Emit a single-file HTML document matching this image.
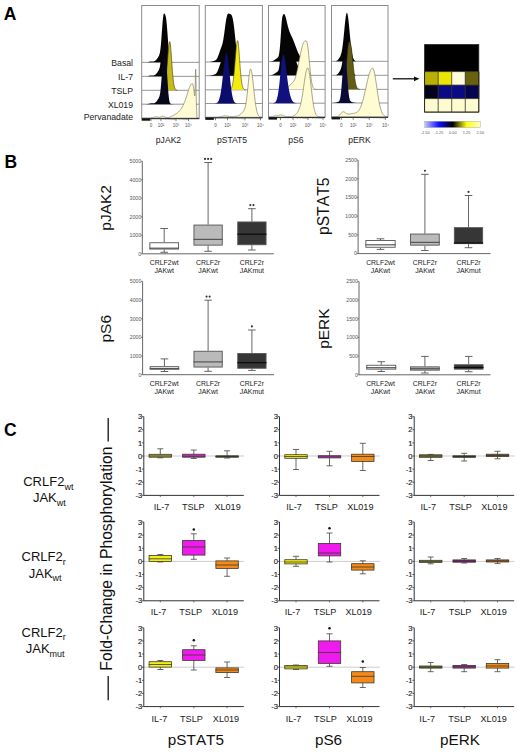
<!DOCTYPE html>
<html><head><meta charset="utf-8"><style>
html,body{margin:0;padding:0;background:#fff;}
body{width:520px;height:753px;overflow:hidden;}
svg{display:block;font-family:"Liberation Sans", sans-serif;}
</style></head><body>
<svg width="520" height="753" viewBox="0 0 520 753">
<rect width="520" height="753" fill="#fff"/>
<text x="3.8" y="19.6" font-size="17.5" font-weight="bold">A</text>
<text x="133" y="66" font-size="8.7" text-anchor="end" fill="#222">Basal</text>
<text x="133" y="79.6" font-size="8.7" text-anchor="end" fill="#222">IL-7</text>
<text x="133" y="93.6" font-size="8.7" text-anchor="end" fill="#222">TSLP</text>
<text x="133" y="107.5" font-size="8.7" text-anchor="end" fill="#222">XL019</text>
<text x="133" y="120.3" font-size="8.7" text-anchor="end" fill="#222">Pervanadate</text>
<g>
<rect x="141.7" y="5.5" width="57.5" height="112.7" fill="#fff"/>
<line x1="141.7" y1="62.35" x2="199.2" y2="62.35" stroke="#8a8a8a" stroke-width="0.9"/>
<path d="M142.2 62.35 L142.2 62.35 142.45 62.35 142.7 62.35 142.95 62.35 143.2 62.35 143.45 62.35 143.7 62.35 143.95 62.35 144.2 62.35 144.45 62.35 144.7 62.34 144.95 62.34 145.2 62.34 145.45 62.33 145.7 62.33 145.95 62.32 146.2 62.3 146.45 62.29 146.7 62.27 146.95 62.25 147.2 62.22 147.45 62.18 147.7 62.14 147.95 62.1 148.2 62.04 148.45 61.99 148.7 61.93 148.95 61.87 149.2 61.8 149.45 61.74 149.7 61.68 149.95 61.62 150.2 61.57 150.45 61.53 150.7 61.5 150.95 61.47 151.2 61.46 151.45 61.45 151.7 61.46 151.95 61.46 152.2 61.47 152.45 61.48 152.7 61.49 152.95 61.48 153.2 61.47 153.45 61.45 153.7 61.41 153.95 61.36 154.2 61.28 154.45 61.19 154.7 61.07 154.95 60.93 155.2 60.76 155.45 60.57 155.7 60.36 155.95 60.12 156.2 59.86 156.45 59.58 156.7 59.28 156.95 58.95 157.2 58.61 157.45 58.26 157.7 57.89 157.95 57.5 158.2 57.1 158.45 56.67 158.7 56.21 158.95 55.7 159.2 55.09 159.45 54.36 159.7 53.44 159.95 52.28 160.2 50.81 160.45 48.98 160.7 46.76 160.95 44.13 161.2 41.13 161.45 37.83 161.7 34.33 161.95 30.77 162.2 27.27 162.45 23.99 162.7 21.06 162.95 18.55 163.2 16.55 163.45 15.06 163.7 14.08 163.95 13.55 164.2 13.41 164.45 13.55 164.7 13.87 164.95 14.25 165.2 14.73 165.45 15.4 165.7 16.33 165.95 17.59 166.2 19.22 166.45 21.25 166.7 23.68 166.95 26.49 167.2 29.63 167.45 33.02 167.7 36.55 167.95 40.12 168.2 43.61 168.45 46.91 168.7 49.93 168.95 52.6 169.2 54.89 169.45 56.78 169.7 58.29 169.95 59.45 170.2 60.32 170.45 60.94 170.7 61.38 170.95 61.68 171.2 61.88 171.45 62.02 171.7 62.11 171.95 62.17 172.2 62.21 172.45 62.24 172.7 62.26 172.95 62.28 173.2 62.29 173.45 62.31 173.7 62.32 173.95 62.32 174.2 62.33 174.45 62.33 174.7 62.34 174.95 62.34 175.2 62.34 175.45 62.34 175.7 62.35 175.95 62.35 176.2 62.35 176.45 62.35 176.7 62.35 176.95 62.35 177.2 62.35 177.45 62.35 177.7 62.35 177.95 62.35 178.2 62.35 178.45 62.35 178.7 62.35 178.95 62.35 179.2 62.35 179.45 62.35 179.7 62.35 179.95 62.35 180.2 62.35 180.45 62.35 180.7 62.35 180.95 62.35 181.2 62.35 181.45 62.35 181.7 62.35 181.95 62.35 182.2 62.35 182.45 62.35 182.7 62.35 182.95 62.35 183.2 62.35 183.45 62.35 183.7 62.35 183.95 62.35 184.2 62.35 184.45 62.35 184.7 62.35 184.95 62.35 185.2 62.35 185.45 62.35 185.7 62.35 185.95 62.35 186.2 62.35 186.45 62.35 186.7 62.35 186.95 62.35 187.2 62.35 187.45 62.35 187.7 62.35 187.95 62.35 188.2 62.35 188.45 62.35 188.7 62.35 188.95 62.35 189.2 62.35 189.45 62.35 189.7 62.35 189.95 62.35 190.2 62.35 190.45 62.35 190.7 62.35 190.95 62.35 191.2 62.35 191.45 62.35 191.7 62.35 191.95 62.35 192.2 62.35 192.45 62.35 192.7 62.35 192.95 62.35 193.2 62.35 193.45 62.35 193.7 62.35 193.95 62.35 194.2 62.35 194.45 62.35 194.7 62.35 194.95 62.35 195.2 62.35 195.45 62.35 195.7 62.35 195.95 62.35 196.2 62.35 196.45 62.35 196.7 62.35 196.95 62.35 197.2 62.35 197.45 62.35 197.7 62.35 197.95 62.35 198.2 62.35 198.45 62.35 198.7 62.35 L198.7 62.35 Z" fill="#050505"/>
<line x1="141.7" y1="76.35" x2="199.2" y2="76.35" stroke="#8a8a8a" stroke-width="0.9"/>
<path d="M142.2 76.35 L142.2 76.35 142.45 76.35 142.7 76.35 142.95 76.35 143.2 76.35 143.45 76.35 143.7 76.35 143.95 76.35 144.2 76.35 144.45 76.35 144.7 76.34 144.95 76.34 145.2 76.34 145.45 76.33 145.7 76.33 145.95 76.32 146.2 76.3 146.45 76.29 146.7 76.27 146.95 76.25 147.2 76.22 147.45 76.18 147.7 76.14 147.95 76.1 148.2 76.04 148.45 75.99 148.7 75.93 148.95 75.87 149.2 75.8 149.45 75.74 149.7 75.68 149.95 75.62 150.2 75.57 150.45 75.53 150.7 75.5 150.95 75.47 151.2 75.46 151.45 75.45 151.7 75.46 151.95 75.46 152.2 75.47 152.45 75.48 152.7 75.49 152.95 75.48 153.2 75.47 153.45 75.45 153.7 75.41 153.95 75.36 154.2 75.28 154.45 75.19 154.7 75.07 154.95 74.93 155.2 74.76 155.45 74.57 155.7 74.36 155.95 74.12 156.2 73.86 156.45 73.58 156.7 73.28 156.95 72.95 157.2 72.61 157.45 72.26 157.7 71.89 157.95 71.5 158.2 71.1 158.45 70.67 158.7 70.21 158.95 69.7 159.2 69.09 159.45 68.36 159.7 67.44 159.95 66.28 160.2 64.81 160.45 62.98 160.7 60.76 160.95 58.13 161.2 55.13 161.45 51.83 161.7 48.33 161.95 44.77 162.2 41.27 162.45 37.99 162.7 35.06 162.95 32.55 163.2 30.55 163.45 29.06 163.7 28.08 163.95 27.55 164.2 27.41 164.45 27.55 164.7 27.87 164.95 28.25 165.2 28.73 165.45 29.4 165.7 30.33 165.95 31.59 166.2 33.22 166.45 35.25 166.7 37.68 166.95 40.49 167.2 43.63 167.45 47.02 167.7 50.55 167.95 54.12 168.2 57.61 168.45 60.91 168.7 63.93 168.95 66.6 169.2 68.89 169.45 70.78 169.7 72.29 169.95 73.45 170.2 74.32 170.45 74.94 170.7 75.38 170.95 75.68 171.2 75.88 171.45 76.02 171.7 76.11 171.95 76.17 172.2 76.21 172.45 76.24 172.7 76.26 172.95 76.28 173.2 76.29 173.45 76.31 173.7 76.32 173.95 76.32 174.2 76.33 174.45 76.33 174.7 76.34 174.95 76.34 175.2 76.34 175.45 76.34 175.7 76.35 175.95 76.35 176.2 76.35 176.45 76.35 176.7 76.35 176.95 76.35 177.2 76.35 177.45 76.35 177.7 76.35 177.95 76.35 178.2 76.35 178.45 76.35 178.7 76.35 178.95 76.35 179.2 76.35 179.45 76.35 179.7 76.35 179.95 76.35 180.2 76.35 180.45 76.35 180.7 76.35 180.95 76.35 181.2 76.35 181.45 76.35 181.7 76.35 181.95 76.35 182.2 76.35 182.45 76.35 182.7 76.35 182.95 76.35 183.2 76.35 183.45 76.35 183.7 76.35 183.95 76.35 184.2 76.35 184.45 76.35 184.7 76.35 184.95 76.35 185.2 76.35 185.45 76.35 185.7 76.35 185.95 76.35 186.2 76.35 186.45 76.35 186.7 76.35 186.95 76.35 187.2 76.35 187.45 76.35 187.7 76.35 187.95 76.35 188.2 76.35 188.45 76.35 188.7 76.35 188.95 76.35 189.2 76.35 189.45 76.35 189.7 76.35 189.95 76.35 190.2 76.35 190.45 76.35 190.7 76.35 190.95 76.35 191.2 76.35 191.45 76.35 191.7 76.35 191.95 76.35 192.2 76.35 192.45 76.35 192.7 76.35 192.95 76.35 193.2 76.35 193.45 76.35 193.7 76.35 193.95 76.35 194.2 76.35 194.45 76.35 194.7 76.35 194.95 76.35 195.2 76.35 195.45 76.35 195.7 76.35 195.95 76.35 196.2 76.35 196.45 76.35 196.7 76.35 196.95 76.35 197.2 76.35 197.45 76.35 197.7 76.35 197.95 76.35 198.2 76.35 198.45 76.35 198.7 76.35 L198.7 76.35 Z" fill="#050505"/>
<line x1="141.7" y1="90.3" x2="199.2" y2="90.3" stroke="#8a8a8a" stroke-width="0.9"/>
<path d="M142.2 90.3 L142.2 90.3 142.45 90.3 142.7 90.3 142.95 90.3 143.2 90.3 143.45 90.3 143.7 90.3 143.95 90.3 144.2 90.3 144.45 90.3 144.7 90.3 144.95 90.3 145.2 90.3 145.45 90.3 145.7 90.3 145.95 90.3 146.2 90.3 146.45 90.3 146.7 90.3 146.95 90.3 147.2 90.3 147.45 90.3 147.7 90.3 147.95 90.3 148.2 90.3 148.45 90.3 148.7 90.3 148.95 90.3 149.2 90.3 149.45 90.3 149.7 90.3 149.95 90.3 150.2 90.3 150.45 90.3 150.7 90.3 150.95 90.3 151.2 90.3 151.45 90.3 151.7 90.3 151.95 90.3 152.2 90.3 152.45 90.3 152.7 90.3 152.95 90.3 153.2 90.3 153.45 90.3 153.7 90.3 153.95 90.3 154.2 90.3 154.45 90.3 154.7 90.3 154.95 90.3 155.2 90.3 155.45 90.3 155.7 90.3 155.95 90.3 156.2 90.3 156.45 90.3 156.7 90.3 156.95 90.3 157.2 90.3 157.45 90.3 157.7 90.3 157.95 90.3 158.2 90.3 158.45 90.3 158.7 90.3 158.95 90.3 159.2 90.3 159.45 90.3 159.7 90.3 159.95 90.3 160.2 90.3 160.45 90.29 160.7 90.29 160.95 90.28 161.2 90.27 161.45 90.26 161.7 90.23 161.95 90.2 162.2 90.15 162.45 90.09 162.7 89.99 162.95 89.86 163.2 89.68 163.45 89.44 163.7 89.12 163.95 88.7 164.2 88.16 164.45 87.48 164.7 86.63 164.95 85.58 165.2 84.3 165.45 82.78 165.7 80.99 165.95 78.93 166.2 76.59 166.45 73.98 166.7 71.12 166.95 68.05 167.2 64.82 167.45 61.49 167.7 58.15 167.95 54.87 168.2 51.77 168.45 48.92 168.7 46.44 168.95 44.39 169.2 42.86 169.45 41.89 169.7 41.52 169.95 41.87 170.2 43 170.45 44.87 170.7 47.37 170.95 50.37 171.2 53.74 171.45 57.33 171.7 61 171.95 64.63 172.2 68.12 172.45 71.38 172.7 74.37 172.95 77.05 173.2 79.41 173.45 81.46 173.7 83.21 173.95 84.68 174.2 85.91 174.45 86.91 174.7 87.72 174.95 88.37 175.2 88.88 175.45 89.27 175.7 89.57 175.95 89.79 176.2 89.95 176.45 90.07 176.7 90.15 176.95 90.2 177.2 90.24 177.45 90.26 177.7 90.28 177.95 90.29 178.2 90.29 178.45 90.3 178.7 90.3 178.95 90.3 179.2 90.3 179.45 90.3 179.7 90.3 179.95 90.3 180.2 90.3 180.45 90.3 180.7 90.3 180.95 90.3 181.2 90.3 181.45 90.3 181.7 90.3 181.95 90.3 182.2 90.3 182.45 90.3 182.7 90.3 182.95 90.3 183.2 90.3 183.45 90.3 183.7 90.3 183.95 90.3 184.2 90.3 184.45 90.3 184.7 90.3 184.95 90.3 185.2 90.3 185.45 90.3 185.7 90.3 185.95 90.3 186.2 90.3 186.45 90.3 186.7 90.3 186.95 90.3 187.2 90.3 187.45 90.3 187.7 90.3 187.95 90.3 188.2 90.3 188.45 90.3 188.7 90.3 188.95 90.3 189.2 90.3 189.45 90.3 189.7 90.3 189.95 90.3 190.2 90.3 190.45 90.3 190.7 90.3 190.95 90.3 191.2 90.3 191.45 90.3 191.7 90.3 191.95 90.3 192.2 90.3 192.45 90.3 192.7 90.3 192.95 90.3 193.2 90.3 193.45 90.3 193.7 90.3 193.95 90.3 194.2 90.3 194.45 90.3 194.7 90.3 194.95 90.3 195.2 90.3 195.45 90.3 195.7 90.3 195.95 90.3 196.2 90.3 196.45 90.3 196.7 90.3 196.95 90.3 197.2 90.3 197.45 90.3 197.7 90.3 197.95 90.3 198.2 90.3 198.45 90.3 198.7 90.3 L198.7 90.3 Z" fill="#c4ba18"/>
<path d="M161.7 90.23 L161.95 90.2 L162.2 90.15 L162.45 90.09 L162.7 89.99 L162.95 89.86 L163.2 89.68 L163.45 89.44 L163.7 89.12 L163.95 88.7 L164.2 88.16 L164.45 87.48 L164.7 86.63 L164.95 85.58 L165.2 84.3 L165.45 82.78 L165.7 80.99 L165.95 78.93 L166.2 76.59 L166.45 73.98 L166.7 71.12 L166.95 68.05 L167.2 64.82 L167.45 61.49 L167.7 58.15 L167.95 54.87 L168.2 51.77 L168.45 48.92 L168.7 46.44 L168.95 44.39 L169.2 42.86 L169.45 41.89 L169.7 41.52 L169.95 41.87 L170.2 43 L170.45 44.87 L170.7 47.37 L170.95 50.37 L171.2 53.74 L171.45 57.33 L171.7 61 L171.95 64.63 L172.2 68.12 L172.45 71.38 L172.7 74.37 L172.95 77.05 L173.2 79.41 L173.45 81.46 L173.7 83.21 L173.95 84.68 L174.2 85.91 L174.45 86.91 L174.7 87.72 L174.95 88.37 L175.2 88.88 L175.45 89.27 L175.7 89.57 L175.95 89.79 L176.2 89.95 L176.45 90.07 L176.7 90.15 L176.95 90.2 L177.2 90.24 L177.45 90.26" fill="none" stroke="#3e3a0c" stroke-width="0.6"/>
<line x1="141.7" y1="104.2" x2="199.2" y2="104.2" stroke="#8a8a8a" stroke-width="0.9"/>
<path d="M142.2 104.2 L142.2 104.2 142.45 104.2 142.7 104.2 142.95 104.2 143.2 104.2 143.45 104.2 143.7 104.2 143.95 104.2 144.2 104.2 144.45 104.2 144.7 104.19 144.95 104.19 145.2 104.19 145.45 104.18 145.7 104.18 145.95 104.17 146.2 104.15 146.45 104.14 146.7 104.12 146.95 104.1 147.2 104.07 147.45 104.03 147.7 103.99 147.95 103.95 148.2 103.89 148.45 103.84 148.7 103.78 148.95 103.72 149.2 103.65 149.45 103.59 149.7 103.53 149.95 103.47 150.2 103.42 150.45 103.38 150.7 103.35 150.95 103.32 151.2 103.31 151.45 103.3 151.7 103.31 151.95 103.31 152.2 103.32 152.45 103.33 152.7 103.34 152.95 103.33 153.2 103.32 153.45 103.3 153.7 103.26 153.95 103.21 154.2 103.13 154.45 103.04 154.7 102.92 154.95 102.78 155.2 102.61 155.45 102.42 155.7 102.21 155.95 101.97 156.2 101.71 156.45 101.43 156.7 101.13 156.95 100.8 157.2 100.46 157.45 100.11 157.7 99.74 157.95 99.35 158.2 98.95 158.45 98.52 158.7 98.06 158.95 97.55 159.2 96.94 159.45 96.21 159.7 95.29 159.95 94.13 160.2 92.66 160.45 90.83 160.7 88.61 160.95 85.98 161.2 82.98 161.45 79.68 161.7 76.18 161.95 72.62 162.2 69.12 162.45 65.84 162.7 62.91 162.95 60.4 163.2 58.4 163.45 56.91 163.7 55.93 163.95 55.4 164.2 55.26 164.45 55.4 164.7 55.72 164.95 56.11 165.2 56.63 165.45 57.4 165.7 58.54 165.95 60.11 166.2 62.18 166.45 64.77 166.7 67.84 166.95 71.33 167.2 75.13 167.45 79.1 167.7 83.07 167.95 86.89 168.2 90.42 168.45 93.54 168.7 96.19 168.95 98.34 169.2 100.02 169.45 101.27 169.7 102.17 169.95 102.8 170.2 103.22 170.45 103.5 170.7 103.68 170.95 103.81 171.2 103.89 171.45 103.95 171.7 104 171.95 104.04 172.2 104.07 172.45 104.09 172.7 104.11 172.95 104.13 173.2 104.14 173.45 104.16 173.7 104.17 173.95 104.17 174.2 104.18 174.45 104.18 174.7 104.19 174.95 104.19 175.2 104.19 175.45 104.19 175.7 104.2 175.95 104.2 176.2 104.2 176.45 104.2 176.7 104.2 176.95 104.2 177.2 104.2 177.45 104.2 177.7 104.2 177.95 104.2 178.2 104.2 178.45 104.2 178.7 104.2 178.95 104.2 179.2 104.2 179.45 104.2 179.7 104.2 179.95 104.2 180.2 104.2 180.45 104.2 180.7 104.2 180.95 104.2 181.2 104.2 181.45 104.2 181.7 104.2 181.95 104.2 182.2 104.2 182.45 104.2 182.7 104.2 182.95 104.2 183.2 104.2 183.45 104.2 183.7 104.2 183.95 104.2 184.2 104.2 184.45 104.2 184.7 104.2 184.95 104.2 185.2 104.2 185.45 104.2 185.7 104.2 185.95 104.2 186.2 104.2 186.45 104.2 186.7 104.2 186.95 104.2 187.2 104.2 187.45 104.2 187.7 104.2 187.95 104.2 188.2 104.2 188.45 104.2 188.7 104.2 188.95 104.2 189.2 104.2 189.45 104.2 189.7 104.2 189.95 104.2 190.2 104.2 190.45 104.2 190.7 104.2 190.95 104.2 191.2 104.2 191.45 104.2 191.7 104.2 191.95 104.2 192.2 104.2 192.45 104.2 192.7 104.2 192.95 104.2 193.2 104.2 193.45 104.2 193.7 104.2 193.95 104.2 194.2 104.2 194.45 104.2 194.7 104.2 194.95 104.2 195.2 104.2 195.45 104.2 195.7 104.2 195.95 104.2 196.2 104.2 196.45 104.2 196.7 104.2 196.95 104.2 197.2 104.2 197.45 104.2 197.7 104.2 197.95 104.2 198.2 104.2 198.45 104.2 198.7 104.2 L198.7 104.2 Z" fill="#07071a"/>
<line x1="141.7" y1="118.2" x2="199.2" y2="118.2" stroke="#8a8a8a" stroke-width="0.9"/>
<path d="M142.2 118.2 L142.2 118.2 142.45 118.2 142.7 118.2 142.95 118.2 143.2 118.2 143.45 118.2 143.7 118.2 143.95 118.2 144.2 118.2 144.45 118.2 144.7 118.2 144.95 118.2 145.2 118.2 145.45 118.2 145.7 118.2 145.95 118.2 146.2 118.2 146.45 118.2 146.7 118.2 146.95 118.2 147.2 118.2 147.45 118.2 147.7 118.2 147.95 118.2 148.2 118.2 148.45 118.2 148.7 118.2 148.95 118.2 149.2 118.2 149.45 118.19 149.7 118.19 149.95 118.18 150.2 118.18 150.45 118.17 150.7 118.16 150.95 118.14 151.2 118.12 151.45 118.09 151.7 118.05 151.95 118.01 152.2 117.95 152.45 117.89 152.7 117.82 152.95 117.73 153.2 117.64 153.45 117.53 153.7 117.43 153.95 117.31 154.2 117.2 154.45 117.09 154.7 116.98 154.95 116.89 155.2 116.81 155.45 116.75 155.7 116.71 155.95 116.69 156.2 116.69 156.45 116.72 156.7 116.76 156.95 116.82 157.2 116.89 157.45 116.96 157.7 117.04 157.95 117.12 158.2 117.18 158.45 117.23 158.7 117.27 158.95 117.28 159.2 117.27 159.45 117.23 159.7 117.18 159.95 117.1 160.2 117 160.45 116.89 160.7 116.77 160.95 116.64 161.2 116.52 161.45 116.41 161.7 116.32 161.95 116.24 162.2 116.2 162.45 116.17 162.7 116.18 162.95 116.22 163.2 116.28 163.45 116.37 163.7 116.48 163.95 116.61 164.2 116.74 164.45 116.88 164.7 117.02 164.95 117.15 165.2 117.27 165.45 117.38 165.7 117.48 165.95 117.55 166.2 117.61 166.45 117.66 166.7 117.69 166.95 117.7 167.2 117.69 167.45 117.68 167.7 117.65 167.95 117.61 168.2 117.56 168.45 117.5 168.7 117.44 168.95 117.37 169.2 117.29 169.45 117.2 169.7 117.11 169.95 117.01 170.2 116.91 170.45 116.81 170.7 116.7 170.95 116.58 171.2 116.46 171.45 116.34 171.7 116.22 171.95 116.1 172.2 115.97 172.45 115.84 172.7 115.71 172.95 115.58 173.2 115.44 173.45 115.31 173.7 115.18 173.95 115.04 174.2 114.9 174.45 114.76 174.7 114.62 174.95 114.48 175.2 114.34 175.45 114.19 175.7 114.04 175.95 113.88 176.2 113.72 176.45 113.56 176.7 113.39 176.95 113.21 177.2 113.02 177.45 112.83 177.7 112.63 177.95 112.42 178.2 112.2 178.45 111.97 178.7 111.73 178.95 111.48 179.2 111.22 179.45 110.95 179.7 110.67 179.95 110.38 180.2 110.07 180.45 109.75 180.7 109.42 180.95 109.07 181.2 108.71 181.45 108.33 181.7 107.94 181.95 107.54 182.2 107.11 182.45 106.67 182.7 106.21 182.95 105.74 183.2 105.24 183.45 104.72 183.7 104.18 183.95 103.61 184.2 103.02 184.45 102.42 184.7 101.78 184.95 101.13 185.2 100.45 185.45 99.75 185.7 99.03 185.95 98.29 186.2 97.53 186.45 96.76 186.7 95.97 186.95 95.18 187.2 94.38 187.45 93.57 187.7 92.77 187.95 91.97 188.2 91.18 188.45 90.41 188.7 89.65 188.95 88.92 189.2 88.21 189.45 87.54 189.7 86.91 189.95 86.32 190.2 85.78 190.45 85.29 190.7 84.86 190.95 84.49 191.2 84.18 191.45 83.93 191.7 83.76 191.95 83.65 192.2 83.61 192.45 83.7 192.7 84.1 192.95 84.83 193.2 85.86 193.45 87.17 193.7 88.72 193.95 90.47 194.2 92.38 194.45 94.33 194.7 95.87 194.95 95 195.2 87.86 195.45 75.2 195.7 69.14 195.95 78.91 196.2 95.24 196.45 105.96 196.7 110.29 196.95 118.2 197.2 118.2 197.45 118.2 197.7 118.2 197.95 118.2 198.2 118.2 198.45 118.2 198.7 118.2 L198.7 118.2 Z" fill="#fffbd2"/>
<path d="M150.95 118.14 L151.2 118.12 L151.45 118.09 L151.7 118.05 L151.95 118.01 L152.2 117.95 L152.45 117.89 L152.7 117.82 L152.95 117.73 L153.2 117.64 L153.45 117.53 L153.7 117.43 L153.95 117.31 L154.2 117.2 L154.45 117.09 L154.7 116.98 L154.95 116.89 L155.2 116.81 L155.45 116.75 L155.7 116.71 L155.95 116.69 L156.2 116.69 L156.45 116.72 L156.7 116.76 L156.95 116.82 L157.2 116.89 L157.45 116.96 L157.7 117.04 L157.95 117.12 L158.2 117.18 L158.45 117.23 L158.7 117.27 L158.95 117.28 L159.2 117.27 L159.45 117.23 L159.7 117.18 L159.95 117.1 L160.2 117 L160.45 116.89 L160.7 116.77 L160.95 116.64 L161.2 116.52 L161.45 116.41 L161.7 116.32 L161.95 116.24 L162.2 116.2 L162.45 116.17 L162.7 116.18 L162.95 116.22 L163.2 116.28 L163.45 116.37 L163.7 116.48 L163.95 116.61 L164.2 116.74 L164.45 116.88 L164.7 117.02 L164.95 117.15 L165.2 117.27 L165.45 117.38 L165.7 117.48 L165.95 117.55 L166.2 117.61 L166.45 117.66 L166.7 117.69 L166.95 117.7 L167.2 117.69 L167.45 117.68 L167.7 117.65 L167.95 117.61 L168.2 117.56 L168.45 117.5 L168.7 117.44 L168.95 117.37 L169.2 117.29 L169.45 117.2 L169.7 117.11 L169.95 117.01 L170.2 116.91 L170.45 116.81 L170.7 116.7 L170.95 116.58 L171.2 116.46 L171.45 116.34 L171.7 116.22 L171.95 116.1 L172.2 115.97 L172.45 115.84 L172.7 115.71 L172.95 115.58 L173.2 115.44 L173.45 115.31 L173.7 115.18 L173.95 115.04 L174.2 114.9 L174.45 114.76 L174.7 114.62 L174.95 114.48 L175.2 114.34 L175.45 114.19 L175.7 114.04 L175.95 113.88 L176.2 113.72 L176.45 113.56 L176.7 113.39 L176.95 113.21 L177.2 113.02 L177.45 112.83 L177.7 112.63 L177.95 112.42 L178.2 112.2 L178.45 111.97 L178.7 111.73 L178.95 111.48 L179.2 111.22 L179.45 110.95 L179.7 110.67 L179.95 110.38 L180.2 110.07 L180.45 109.75 L180.7 109.42 L180.95 109.07 L181.2 108.71 L181.45 108.33 L181.7 107.94 L181.95 107.54 L182.2 107.11 L182.45 106.67 L182.7 106.21 L182.95 105.74 L183.2 105.24 L183.45 104.72 L183.7 104.18 L183.95 103.61 L184.2 103.02 L184.45 102.42 L184.7 101.78 L184.95 101.13 L185.2 100.45 L185.45 99.75 L185.7 99.03 L185.95 98.29 L186.2 97.53 L186.45 96.76 L186.7 95.97 L186.95 95.18 L187.2 94.38 L187.45 93.57 L187.7 92.77 L187.95 91.97 L188.2 91.18 L188.45 90.41 L188.7 89.65 L188.95 88.92 L189.2 88.21 L189.45 87.54 L189.7 86.91 L189.95 86.32 L190.2 85.78 L190.45 85.29 L190.7 84.86 L190.95 84.49 L191.2 84.18 L191.45 83.93 L191.7 83.76 L191.95 83.65 L192.2 83.61 L192.45 83.7 L192.7 84.1 L192.95 84.83 L193.2 85.86 L193.45 87.17 L193.7 88.72 L193.95 90.47 L194.2 92.38 L194.45 94.33 L194.7 95.87 L194.95 95 L195.2 87.86 L195.45 75.2 L195.7 69.14 L195.95 78.91 L196.2 95.24 L196.45 105.96 L196.7 110.29 L196.95 118.2" fill="none" stroke="#6e6a48" stroke-width="0.6"/>
<rect x="141.7" y="5.5" width="57.5" height="112.7" fill="none" stroke="#8c8c8c" stroke-width="1"/>
<line x1="141.7" y1="118.7" x2="199.2" y2="118.7" stroke="#222" stroke-width="1"/>
<rect x="141.7" y="118.7" width="8.5" height="2" fill="#111"/>
<line x1="151.0" y1="118.7" x2="151.0" y2="121.2" stroke="#333" stroke-width="0.6"/>
<line x1="161.0" y1="118.7" x2="161.0" y2="121.2" stroke="#333" stroke-width="0.6"/>
<line x1="176.0" y1="118.7" x2="176.0" y2="121.2" stroke="#333" stroke-width="0.6"/>
<line x1="188.5" y1="118.7" x2="188.5" y2="121.2" stroke="#333" stroke-width="0.6"/>
<line x1="165.52" y1="118.7" x2="165.52" y2="120.10000000000001" stroke="#777" stroke-width="0.4"/>
<line x1="168.16" y1="118.7" x2="168.16" y2="120.10000000000001" stroke="#777" stroke-width="0.4"/>
<line x1="170.03" y1="118.7" x2="170.03" y2="120.10000000000001" stroke="#777" stroke-width="0.4"/>
<line x1="171.48" y1="118.7" x2="171.48" y2="120.10000000000001" stroke="#777" stroke-width="0.4"/>
<line x1="172.67" y1="118.7" x2="172.67" y2="120.10000000000001" stroke="#777" stroke-width="0.4"/>
<line x1="173.68" y1="118.7" x2="173.68" y2="120.10000000000001" stroke="#777" stroke-width="0.4"/>
<line x1="174.55" y1="118.7" x2="174.55" y2="120.10000000000001" stroke="#777" stroke-width="0.4"/>
<line x1="175.31" y1="118.7" x2="175.31" y2="120.10000000000001" stroke="#777" stroke-width="0.4"/>
<line x1="179.76" y1="118.7" x2="179.76" y2="120.10000000000001" stroke="#777" stroke-width="0.4"/>
<line x1="181.96" y1="118.7" x2="181.96" y2="120.10000000000001" stroke="#777" stroke-width="0.4"/>
<line x1="183.53" y1="118.7" x2="183.53" y2="120.10000000000001" stroke="#777" stroke-width="0.4"/>
<line x1="184.74" y1="118.7" x2="184.74" y2="120.10000000000001" stroke="#777" stroke-width="0.4"/>
<line x1="185.73" y1="118.7" x2="185.73" y2="120.10000000000001" stroke="#777" stroke-width="0.4"/>
<line x1="186.56" y1="118.7" x2="186.56" y2="120.10000000000001" stroke="#777" stroke-width="0.4"/>
<line x1="187.29" y1="118.7" x2="187.29" y2="120.10000000000001" stroke="#777" stroke-width="0.4"/>
<line x1="187.93" y1="118.7" x2="187.93" y2="120.10000000000001" stroke="#777" stroke-width="0.4"/>
<text x="151" y="126.6" font-size="4.5" text-anchor="middle" fill="#555">0</text>
<text x="161" y="126.6" font-size="4.5" text-anchor="middle" fill="#555">10²</text>
<text x="176" y="126.6" font-size="4.5" text-anchor="middle" fill="#555">10³</text>
<text x="188.5" y="126.6" font-size="4.5" text-anchor="middle" fill="#555">10⁴</text>
</g>
<g>
<rect x="205.3" y="5.5" width="57.099999999999966" height="111.85" fill="#fff"/>
<line x1="205.3" y1="62.0" x2="262.4" y2="62.0" stroke="#8a8a8a" stroke-width="0.9"/>
<path d="M205.8 62 L205.8 62 206.05 62 206.3 62 206.55 62 206.8 62 207.05 62 207.3 62 207.55 62 207.8 61.99 208.05 61.99 208.3 61.99 208.55 61.98 208.81 61.97 209.06 61.96 209.31 61.95 209.56 61.93 209.81 61.91 210.06 61.88 210.31 61.85 210.56 61.81 210.81 61.77 211.06 61.72 211.31 61.66 211.56 61.6 211.81 61.53 212.06 61.46 212.31 61.39 212.56 61.31 212.81 61.24 213.06 61.16 213.31 61.09 213.56 61.01 213.81 60.94 214.06 60.87 214.32 60.79 214.57 60.7 214.82 60.61 215.07 60.49 215.32 60.36 215.57 60.2 215.82 60.01 216.07 59.78 216.32 59.51 216.57 59.2 216.82 58.83 217.07 58.42 217.32 57.95 217.57 57.43 217.82 56.86 218.07 56.24 218.32 55.59 218.57 54.9 218.82 54.18 219.07 53.45 219.32 52.71 219.57 51.96 219.82 51.23 220.08 50.51 220.33 49.81 220.58 49.13 220.83 48.46 221.08 47.81 221.33 47.15 221.58 46.47 221.83 45.76 222.08 44.98 222.33 44.13 222.58 43.17 222.83 42.08 223.08 40.86 223.33 39.5 223.58 37.99 223.83 36.35 224.08 34.6 224.33 32.75 224.58 30.84 224.83 28.9 225.08 26.98 225.33 25.09 225.59 23.29 225.84 21.61 226.09 20.06 226.34 18.67 226.59 17.45 226.84 16.41 227.09 15.54 227.34 14.86 227.59 14.33 227.84 13.96 228.09 13.72 228.34 13.58 228.59 13.54 228.84 13.57 229.09 13.64 229.34 13.74 229.59 13.84 229.84 13.93 230.09 14.02 230.34 14.1 230.59 14.2 230.84 14.35 231.1 14.55 231.35 14.83 231.6 15.22 231.85 15.72 232.1 16.35 232.35 17.14 232.6 18.09 232.85 19.21 233.1 20.52 233.35 22 233.6 23.67 233.85 25.51 234.1 27.5 234.35 29.63 234.6 31.88 234.85 34.21 235.1 36.6 235.35 39.01 235.6 41.4 235.85 43.75 236.1 46.01 236.35 48.16 236.6 50.17 236.86 52.02 237.11 53.7 237.36 55.19 237.61 56.5 237.86 57.63 238.11 58.58 238.36 59.37 238.61 60.01 238.86 60.52 239.11 60.92 239.36 61.23 239.61 61.46 239.86 61.63 240.11 61.75 240.36 61.84 240.61 61.89 240.86 61.93 241.11 61.96 241.36 61.98 241.61 61.99 241.86 61.99 242.11 62 242.37 62 242.62 62 242.87 62 243.12 62 243.37 62 243.62 62 243.87 62 244.12 62 244.37 62 244.62 62 244.87 62 245.12 62 245.37 62 245.62 62 245.87 62 246.12 62 246.37 62 246.62 62 246.87 62 247.12 62 247.37 62 247.62 62 247.88 62 248.13 62 248.38 62 248.63 62 248.88 62 249.13 62 249.38 62 249.63 62 249.88 62 250.13 62 250.38 62 250.63 62 250.88 62 251.13 62 251.38 62 251.63 62 251.88 62 252.13 62 252.38 62 252.63 62 252.88 62 253.13 62 253.38 62 253.64 62 253.89 62 254.14 62 254.39 62 254.64 62 254.89 62 255.14 62 255.39 62 255.64 62 255.89 62 256.14 62 256.39 62 256.64 62 256.89 62 257.14 62 257.39 62 257.64 62 257.89 62 258.14 62 258.39 62 258.64 62 258.89 62 259.15 62 259.4 62 259.65 62 259.9 62 260.15 62 260.4 62 260.65 62 260.9 62 261.15 62 261.4 62 261.65 62 261.9 62 L261.9 62 Z" fill="#050505"/>
<line x1="205.3" y1="75.7" x2="262.4" y2="75.7" stroke="#8a8a8a" stroke-width="0.9"/>
<path d="M205.8 75.7 L205.8 75.7 206.05 75.7 206.3 75.7 206.55 75.7 206.8 75.7 207.05 75.7 207.3 75.7 207.55 75.7 207.8 75.69 208.05 75.69 208.3 75.69 208.55 75.68 208.81 75.67 209.06 75.66 209.31 75.65 209.56 75.63 209.81 75.61 210.06 75.58 210.31 75.55 210.56 75.51 210.81 75.47 211.06 75.42 211.31 75.36 211.56 75.3 211.81 75.23 212.06 75.16 212.31 75.09 212.56 75.01 212.81 74.94 213.06 74.86 213.31 74.79 213.56 74.71 213.81 74.64 214.06 74.57 214.32 74.49 214.57 74.4 214.82 74.31 215.07 74.19 215.32 74.06 215.57 73.9 215.82 73.71 216.07 73.48 216.32 73.21 216.57 72.9 216.82 72.53 217.07 72.12 217.32 71.65 217.57 71.13 217.82 70.56 218.07 69.94 218.32 69.29 218.57 68.6 218.82 67.88 219.07 67.15 219.32 66.41 219.57 65.66 219.82 64.93 220.08 64.21 220.33 63.51 220.58 62.83 220.83 62.16 221.08 61.51 221.33 60.85 221.58 60.17 221.83 59.46 222.08 58.68 222.33 57.83 222.58 56.87 222.83 55.78 223.08 54.56 223.33 53.2 223.58 51.69 223.83 50.05 224.08 48.3 224.33 46.45 224.58 44.54 224.83 42.6 225.08 40.68 225.33 38.79 225.59 36.99 225.84 35.31 226.09 33.76 226.34 32.37 226.59 31.15 226.84 30.11 227.09 29.24 227.34 28.56 227.59 28.03 227.84 27.66 228.09 27.42 228.34 27.28 228.59 27.24 228.84 27.27 229.09 27.34 229.34 27.44 229.59 27.54 229.84 27.63 230.09 27.72 230.34 27.8 230.59 27.9 230.84 28.05 231.1 28.25 231.35 28.53 231.6 28.92 231.85 29.42 232.1 30.05 232.35 30.84 232.6 31.79 232.85 32.91 233.1 34.22 233.35 35.7 233.6 37.37 233.85 39.21 234.1 41.2 234.35 43.33 234.6 45.58 234.85 47.91 235.1 50.3 235.35 52.71 235.6 55.1 235.85 57.45 236.1 59.71 236.35 61.86 236.6 63.87 236.86 65.72 237.11 67.4 237.36 68.89 237.61 70.2 237.86 71.33 238.11 72.28 238.36 73.07 238.61 73.71 238.86 74.22 239.11 74.62 239.36 74.93 239.61 75.16 239.86 75.33 240.11 75.45 240.36 75.54 240.61 75.59 240.86 75.63 241.11 75.66 241.36 75.68 241.61 75.69 241.86 75.69 242.11 75.7 242.37 75.7 242.62 75.7 242.87 75.7 243.12 75.7 243.37 75.7 243.62 75.7 243.87 75.7 244.12 75.7 244.37 75.7 244.62 75.7 244.87 75.7 245.12 75.7 245.37 75.7 245.62 75.7 245.87 75.7 246.12 75.7 246.37 75.7 246.62 75.7 246.87 75.7 247.12 75.7 247.37 75.7 247.62 75.7 247.88 75.7 248.13 75.7 248.38 75.7 248.63 75.7 248.88 75.7 249.13 75.7 249.38 75.7 249.63 75.7 249.88 75.7 250.13 75.7 250.38 75.7 250.63 75.7 250.88 75.7 251.13 75.7 251.38 75.7 251.63 75.7 251.88 75.7 252.13 75.7 252.38 75.7 252.63 75.7 252.88 75.7 253.13 75.7 253.38 75.7 253.64 75.7 253.89 75.7 254.14 75.7 254.39 75.7 254.64 75.7 254.89 75.7 255.14 75.7 255.39 75.7 255.64 75.7 255.89 75.7 256.14 75.7 256.39 75.7 256.64 75.7 256.89 75.7 257.14 75.7 257.39 75.7 257.64 75.7 257.89 75.7 258.14 75.7 258.39 75.7 258.64 75.7 258.89 75.7 259.15 75.7 259.4 75.7 259.65 75.7 259.9 75.7 260.15 75.7 260.4 75.7 260.65 75.7 260.9 75.7 261.15 75.7 261.4 75.7 261.65 75.7 261.9 75.7 L261.9 75.7 Z" fill="#050505"/>
<line x1="205.3" y1="89.85" x2="262.4" y2="89.85" stroke="#8a8a8a" stroke-width="0.9"/>
<path d="M205.8 89.85 L205.8 89.85 206.05 89.85 206.3 89.85 206.55 89.85 206.8 89.85 207.05 89.85 207.3 89.85 207.55 89.85 207.8 89.85 208.05 89.85 208.3 89.85 208.55 89.85 208.81 89.85 209.06 89.85 209.31 89.85 209.56 89.85 209.81 89.85 210.06 89.85 210.31 89.85 210.56 89.85 210.81 89.85 211.06 89.85 211.31 89.85 211.56 89.85 211.81 89.85 212.06 89.85 212.31 89.85 212.56 89.85 212.81 89.85 213.06 89.85 213.31 89.85 213.56 89.85 213.81 89.85 214.06 89.85 214.32 89.85 214.57 89.85 214.82 89.85 215.07 89.85 215.32 89.85 215.57 89.85 215.82 89.85 216.07 89.85 216.32 89.85 216.57 89.85 216.82 89.85 217.07 89.85 217.32 89.85 217.57 89.85 217.82 89.85 218.07 89.85 218.32 89.85 218.57 89.85 218.82 89.85 219.07 89.85 219.32 89.85 219.57 89.85 219.82 89.85 220.08 89.85 220.33 89.85 220.58 89.85 220.83 89.85 221.08 89.85 221.33 89.85 221.58 89.85 221.83 89.85 222.08 89.85 222.33 89.85 222.58 89.85 222.83 89.85 223.08 89.85 223.33 89.85 223.58 89.85 223.83 89.85 224.08 89.85 224.33 89.85 224.58 89.85 224.83 89.85 225.08 89.85 225.33 89.85 225.59 89.85 225.84 89.85 226.09 89.85 226.34 89.85 226.59 89.85 226.84 89.85 227.09 89.85 227.34 89.84 227.59 89.84 227.84 89.84 228.09 89.83 228.34 89.82 228.59 89.81 228.84 89.79 229.09 89.76 229.34 89.72 229.59 89.66 229.84 89.59 230.09 89.48 230.34 89.34 230.59 89.16 230.84 88.92 231.1 88.61 231.35 88.21 231.6 87.71 231.85 87.08 232.1 86.31 232.35 85.38 232.6 84.27 232.85 82.95 233.1 81.41 233.35 79.64 233.6 77.64 233.85 75.39 234.1 72.93 234.35 70.25 234.6 67.4 234.85 64.41 235.1 61.34 235.35 58.24 235.6 55.18 235.85 52.24 236.1 49.49 236.35 47 236.6 44.84 236.86 43.09 237.11 41.77 237.36 40.95 237.61 40.62 237.86 40.96 238.11 42.1 238.36 43.96 238.61 46.45 238.86 49.42 239.11 52.75 239.36 56.29 239.61 59.9 239.86 63.46 240.11 66.87 240.36 70.07 240.61 73 240.86 75.64 241.11 77.99 241.36 80.05 241.61 81.83 241.86 83.36 242.11 84.66 242.37 85.76 242.62 86.67 242.87 87.41 243.12 88.02 243.37 88.5 243.62 88.87 243.87 89.16 244.12 89.37 244.37 89.52 244.62 89.63 244.87 89.71 245.12 89.76 245.37 89.8 245.62 89.82 245.87 89.83 246.12 89.84 246.37 89.84 246.62 89.85 246.87 89.85 247.12 89.85 247.37 89.85 247.62 89.85 247.88 89.85 248.13 89.85 248.38 89.85 248.63 89.85 248.88 89.85 249.13 89.85 249.38 89.85 249.63 89.85 249.88 89.85 250.13 89.85 250.38 89.85 250.63 89.85 250.88 89.85 251.13 89.85 251.38 89.85 251.63 89.85 251.88 89.85 252.13 89.85 252.38 89.85 252.63 89.85 252.88 89.85 253.13 89.85 253.38 89.85 253.64 89.85 253.89 89.85 254.14 89.85 254.39 89.85 254.64 89.85 254.89 89.85 255.14 89.85 255.39 89.85 255.64 89.85 255.89 89.85 256.14 89.85 256.39 89.85 256.64 89.85 256.89 89.85 257.14 89.85 257.39 89.85 257.64 89.85 257.89 89.85 258.14 89.85 258.39 89.85 258.64 89.85 258.89 89.85 259.15 89.85 259.4 89.85 259.65 89.85 259.9 89.85 260.15 89.85 260.4 89.85 260.65 89.85 260.9 89.85 261.15 89.85 261.4 89.85 261.65 89.85 261.9 89.85 L261.9 89.85 Z" fill="#f4ea0c"/>
<path d="M228.84 89.79 L229.09 89.76 L229.34 89.72 L229.59 89.66 L229.84 89.59 L230.09 89.48 L230.34 89.34 L230.59 89.16 L230.84 88.92 L231.1 88.61 L231.35 88.21 L231.6 87.71 L231.85 87.08 L232.1 86.31 L232.35 85.38 L232.6 84.27 L232.85 82.95 L233.1 81.41 L233.35 79.64 L233.6 77.64 L233.85 75.39 L234.1 72.93 L234.35 70.25 L234.6 67.4 L234.85 64.41 L235.1 61.34 L235.35 58.24 L235.6 55.18 L235.85 52.24 L236.1 49.49 L236.35 47 L236.6 44.84 L236.86 43.09 L237.11 41.77 L237.36 40.95 L237.61 40.62 L237.86 40.96 L238.11 42.1 L238.36 43.96 L238.61 46.45 L238.86 49.42 L239.11 52.75 L239.36 56.29 L239.61 59.9 L239.86 63.46 L240.11 66.87 L240.36 70.07 L240.61 73 L240.86 75.64 L241.11 77.99 L241.36 80.05 L241.61 81.83 L241.86 83.36 L242.11 84.66 L242.37 85.76 L242.62 86.67 L242.87 87.41 L243.12 88.02 L243.37 88.5 L243.62 88.87 L243.87 89.16 L244.12 89.37 L244.37 89.52 L244.62 89.63 L244.87 89.71 L245.12 89.76 L245.37 89.8 L245.62 89.82" fill="none" stroke="#4a4410" stroke-width="0.6"/>
<line x1="205.3" y1="103.5" x2="262.4" y2="103.5" stroke="#8a8a8a" stroke-width="0.9"/>
<path d="M205.8 103.5 L205.8 103.5 206.05 103.5 206.3 103.5 206.55 103.5 206.8 103.5 207.05 103.5 207.3 103.5 207.55 103.5 207.8 103.5 208.05 103.5 208.3 103.5 208.55 103.5 208.81 103.5 209.06 103.5 209.31 103.5 209.56 103.5 209.81 103.5 210.06 103.5 210.31 103.5 210.56 103.5 210.81 103.5 211.06 103.5 211.31 103.5 211.56 103.5 211.81 103.5 212.06 103.5 212.31 103.5 212.56 103.49 212.81 103.49 213.06 103.49 213.31 103.48 213.56 103.48 213.81 103.47 214.06 103.46 214.32 103.44 214.57 103.43 214.82 103.4 215.07 103.38 215.32 103.34 215.57 103.29 215.82 103.23 216.07 103.16 216.32 103.07 216.57 102.95 216.82 102.82 217.07 102.65 217.32 102.45 217.57 102.2 217.82 101.91 218.07 101.56 218.32 101.16 218.57 100.68 218.82 100.13 219.07 99.49 219.32 98.75 219.57 97.92 219.82 96.97 220.08 95.91 220.33 94.73 220.58 93.42 220.83 91.98 221.08 90.41 221.33 88.71 221.58 86.89 221.83 84.96 222.08 82.91 222.33 80.78 222.58 78.56 222.83 76.29 223.08 73.98 223.33 71.65 223.58 69.34 223.83 67.08 224.08 64.88 224.33 62.79 224.58 60.84 224.83 59.04 225.08 57.44 225.33 56.05 225.59 54.9 225.84 54.01 226.09 53.4 226.34 53.06 226.59 53.02 226.84 53.32 227.09 53.96 227.34 54.93 227.59 56.22 227.84 57.79 228.09 59.62 228.34 61.66 228.59 63.89 228.84 66.26 229.09 68.73 229.34 71.26 229.59 73.81 229.84 76.36 230.09 78.85 230.34 81.28 230.59 83.6 230.84 85.8 231.1 87.87 231.35 89.8 231.6 91.57 231.85 93.18 232.1 94.64 232.35 95.94 232.6 97.1 232.85 98.12 233.1 99.01 233.35 99.77 233.6 100.43 233.85 100.99 234.1 101.46 234.35 101.86 234.6 102.18 234.85 102.45 235.1 102.67 235.35 102.85 235.6 102.99 235.85 103.11 236.1 103.2 236.35 103.27 236.6 103.33 236.86 103.37 237.11 103.4 237.36 103.43 237.61 103.45 237.86 103.46 238.11 103.47 238.36 103.48 238.61 103.49 238.86 103.49 239.11 103.49 239.36 103.49 239.61 103.5 239.86 103.5 240.11 103.5 240.36 103.5 240.61 103.5 240.86 103.5 241.11 103.5 241.36 103.5 241.61 103.5 241.86 103.5 242.11 103.5 242.37 103.5 242.62 103.5 242.87 103.5 243.12 103.5 243.37 103.5 243.62 103.5 243.87 103.5 244.12 103.5 244.37 103.5 244.62 103.5 244.87 103.5 245.12 103.5 245.37 103.5 245.62 103.5 245.87 103.5 246.12 103.5 246.37 103.5 246.62 103.5 246.87 103.5 247.12 103.5 247.37 103.5 247.62 103.5 247.88 103.5 248.13 103.5 248.38 103.5 248.63 103.5 248.88 103.5 249.13 103.5 249.38 103.5 249.63 103.5 249.88 103.5 250.13 103.5 250.38 103.5 250.63 103.5 250.88 103.5 251.13 103.5 251.38 103.5 251.63 103.5 251.88 103.5 252.13 103.5 252.38 103.5 252.63 103.5 252.88 103.5 253.13 103.5 253.38 103.5 253.64 103.5 253.89 103.5 254.14 103.5 254.39 103.5 254.64 103.5 254.89 103.5 255.14 103.5 255.39 103.5 255.64 103.5 255.89 103.5 256.14 103.5 256.39 103.5 256.64 103.5 256.89 103.5 257.14 103.5 257.39 103.5 257.64 103.5 257.89 103.5 258.14 103.5 258.39 103.5 258.64 103.5 258.89 103.5 259.15 103.5 259.4 103.5 259.65 103.5 259.9 103.5 260.15 103.5 260.4 103.5 260.65 103.5 260.9 103.5 261.15 103.5 261.4 103.5 261.65 103.5 261.9 103.5 L261.9 103.5 Z" fill="#0c0c6c"/>
<line x1="205.3" y1="117.35" x2="262.4" y2="117.35" stroke="#8a8a8a" stroke-width="0.9"/>
<path d="M205.8 117.35 L205.8 117.35 206.05 117.35 206.3 117.35 206.55 117.35 206.8 117.35 207.05 117.35 207.3 117.35 207.55 117.35 207.8 117.35 208.05 117.35 208.3 117.35 208.55 117.35 208.81 117.35 209.06 117.35 209.31 117.35 209.56 117.35 209.81 117.35 210.06 117.35 210.31 117.35 210.56 117.35 210.81 117.35 211.06 117.35 211.31 117.35 211.56 117.35 211.81 117.35 212.06 117.35 212.31 117.35 212.56 117.35 212.81 117.35 213.06 117.35 213.31 117.35 213.56 117.35 213.81 117.35 214.06 117.35 214.32 117.35 214.57 117.35 214.82 117.35 215.07 117.34 215.32 117.34 215.57 117.34 215.82 117.34 216.07 117.33 216.32 117.33 216.57 117.32 216.82 117.31 217.07 117.3 217.32 117.29 217.57 117.28 217.82 117.26 218.07 117.25 218.32 117.22 218.57 117.2 218.82 117.17 219.07 117.14 219.32 117.1 219.57 117.06 219.82 117.01 220.08 116.96 220.33 116.9 220.58 116.84 220.83 116.78 221.08 116.71 221.33 116.64 221.58 116.57 221.83 116.49 222.08 116.41 222.33 116.34 222.58 116.26 222.83 116.19 223.08 116.12 223.33 116.06 223.58 116 223.83 115.95 224.08 115.91 224.33 115.87 224.58 115.85 224.83 115.83 225.08 115.83 225.33 115.83 225.59 115.84 225.84 115.87 226.09 115.9 226.34 115.94 226.59 115.98 226.84 116.03 227.09 116.09 227.34 116.15 227.59 116.21 227.84 116.27 228.09 116.33 228.34 116.38 228.59 116.44 228.84 116.49 229.09 116.53 229.34 116.57 229.59 116.61 229.84 116.64 230.09 116.66 230.34 116.67 230.59 116.68 230.84 116.69 231.1 116.69 231.35 116.68 231.6 116.67 231.85 116.65 232.1 116.64 232.35 116.61 232.6 116.59 232.85 116.56 233.1 116.54 233.35 116.51 233.6 116.48 233.85 116.45 234.1 116.42 234.35 116.39 234.6 116.36 234.85 116.34 235.1 116.31 235.35 116.28 235.6 116.25 235.85 116.22 236.1 116.19 236.35 116.16 236.6 116.12 236.86 116.08 237.11 116.03 237.36 115.97 237.61 115.91 237.86 115.84 238.11 115.75 238.36 115.66 238.61 115.55 238.86 115.42 239.11 115.28 239.36 115.13 239.61 114.96 239.86 114.78 240.11 114.59 240.36 114.38 240.61 114.16 240.86 113.94 241.11 113.7 241.36 113.46 241.61 113.21 241.86 112.96 242.11 112.7 242.37 112.44 242.62 112.17 242.87 111.89 243.12 111.6 243.37 111.28 243.62 110.93 243.87 110.53 244.12 110.08 244.37 109.56 244.62 108.96 244.87 108.25 245.12 107.42 245.37 106.44 245.62 105.32 245.87 104.02 246.12 102.55 246.37 100.89 246.62 99.04 246.87 97.02 247.12 94.83 247.37 92.49 247.62 90.04 247.88 87.51 248.13 84.94 248.38 82.39 248.63 79.91 248.88 77.56 249.13 75.38 249.38 73.45 249.63 71.82 249.88 70.52 250.13 69.61 250.38 69.1 250.63 69.02 250.88 69.28 251.13 69.85 251.38 70.7 251.63 71.83 251.88 73.22 252.13 74.83 252.38 76.65 252.63 78.64 252.88 80.77 253.13 83.01 253.38 85.32 253.64 87.66 253.89 90.01 254.14 92.34 254.39 94.62 254.64 96.83 254.89 98.94 255.14 100.94 255.39 102.82 255.64 104.56 255.89 106.17 256.14 107.65 256.39 108.98 256.64 110.17 256.89 111.24 257.14 112.18 257.39 113.01 257.64 113.72 257.89 114.34 258.14 114.87 258.39 115.32 258.64 115.7 258.89 116.01 259.15 116.28 259.4 116.49 259.65 116.67 259.9 116.82 260.15 116.93 260.4 117.03 260.65 117.1 260.9 117.16 261.15 117.2 261.4 117.24 261.65 117.27 261.9 117.29 L261.9 117.35 Z" fill="#fffbd2"/>
<path d="M217.32 117.29 L217.57 117.28 L217.82 117.26 L218.07 117.25 L218.32 117.22 L218.57 117.2 L218.82 117.17 L219.07 117.14 L219.32 117.1 L219.57 117.06 L219.82 117.01 L220.08 116.96 L220.33 116.9 L220.58 116.84 L220.83 116.78 L221.08 116.71 L221.33 116.64 L221.58 116.57 L221.83 116.49 L222.08 116.41 L222.33 116.34 L222.58 116.26 L222.83 116.19 L223.08 116.12 L223.33 116.06 L223.58 116 L223.83 115.95 L224.08 115.91 L224.33 115.87 L224.58 115.85 L224.83 115.83 L225.08 115.83 L225.33 115.83 L225.59 115.84 L225.84 115.87 L226.09 115.9 L226.34 115.94 L226.59 115.98 L226.84 116.03 L227.09 116.09 L227.34 116.15 L227.59 116.21 L227.84 116.27 L228.09 116.33 L228.34 116.38 L228.59 116.44 L228.84 116.49 L229.09 116.53 L229.34 116.57 L229.59 116.61 L229.84 116.64 L230.09 116.66 L230.34 116.67 L230.59 116.68 L230.84 116.69 L231.1 116.69 L231.35 116.68 L231.6 116.67 L231.85 116.65 L232.1 116.64 L232.35 116.61 L232.6 116.59 L232.85 116.56 L233.1 116.54 L233.35 116.51 L233.6 116.48 L233.85 116.45 L234.1 116.42 L234.35 116.39 L234.6 116.36 L234.85 116.34 L235.1 116.31 L235.35 116.28 L235.6 116.25 L235.85 116.22 L236.1 116.19 L236.35 116.16 L236.6 116.12 L236.86 116.08 L237.11 116.03 L237.36 115.97 L237.61 115.91 L237.86 115.84 L238.11 115.75 L238.36 115.66 L238.61 115.55 L238.86 115.42 L239.11 115.28 L239.36 115.13 L239.61 114.96 L239.86 114.78 L240.11 114.59 L240.36 114.38 L240.61 114.16 L240.86 113.94 L241.11 113.7 L241.36 113.46 L241.61 113.21 L241.86 112.96 L242.11 112.7 L242.37 112.44 L242.62 112.17 L242.87 111.89 L243.12 111.6 L243.37 111.28 L243.62 110.93 L243.87 110.53 L244.12 110.08 L244.37 109.56 L244.62 108.96 L244.87 108.25 L245.12 107.42 L245.37 106.44 L245.62 105.32 L245.87 104.02 L246.12 102.55 L246.37 100.89 L246.62 99.04 L246.87 97.02 L247.12 94.83 L247.37 92.49 L247.62 90.04 L247.88 87.51 L248.13 84.94 L248.38 82.39 L248.63 79.91 L248.88 77.56 L249.13 75.38 L249.38 73.45 L249.63 71.82 L249.88 70.52 L250.13 69.61 L250.38 69.1 L250.63 69.02 L250.88 69.28 L251.13 69.85 L251.38 70.7 L251.63 71.83 L251.88 73.22 L252.13 74.83 L252.38 76.65 L252.63 78.64 L252.88 80.77 L253.13 83.01 L253.38 85.32 L253.64 87.66 L253.89 90.01 L254.14 92.34 L254.39 94.62 L254.64 96.83 L254.89 98.94 L255.14 100.94 L255.39 102.82 L255.64 104.56 L255.89 106.17 L256.14 107.65 L256.39 108.98 L256.64 110.17 L256.89 111.24 L257.14 112.18 L257.39 113.01 L257.64 113.72 L257.89 114.34 L258.14 114.87 L258.39 115.32 L258.64 115.7 L258.89 116.01 L259.15 116.28 L259.4 116.49 L259.65 116.67 L259.9 116.82 L260.15 116.93 L260.4 117.03 L260.65 117.1 L260.9 117.16 L261.15 117.2 L261.4 117.24 L261.65 117.27 L261.9 117.29" fill="none" stroke="#6e6a48" stroke-width="0.6"/>
<rect x="205.3" y="5.5" width="57.099999999999966" height="111.85" fill="none" stroke="#8c8c8c" stroke-width="1"/>
<line x1="205.3" y1="117.85" x2="262.4" y2="117.85" stroke="#222" stroke-width="1"/>
<rect x="205.3" y="117.85" width="8.5" height="2" fill="#111"/>
<line x1="215.5" y1="117.85" x2="215.5" y2="120.35" stroke="#333" stroke-width="0.6"/>
<line x1="227.5" y1="117.85" x2="227.5" y2="120.35" stroke="#333" stroke-width="0.6"/>
<line x1="245.0" y1="117.85" x2="245.0" y2="120.35" stroke="#333" stroke-width="0.6"/>
<line x1="260.5" y1="117.85" x2="260.5" y2="120.35" stroke="#333" stroke-width="0.6"/>
<line x1="232.77" y1="117.85" x2="232.77" y2="119.25" stroke="#777" stroke-width="0.4"/>
<line x1="235.85" y1="117.85" x2="235.85" y2="119.25" stroke="#777" stroke-width="0.4"/>
<line x1="238.04" y1="117.85" x2="238.04" y2="119.25" stroke="#777" stroke-width="0.4"/>
<line x1="239.73" y1="117.85" x2="239.73" y2="119.25" stroke="#777" stroke-width="0.4"/>
<line x1="241.12" y1="117.85" x2="241.12" y2="119.25" stroke="#777" stroke-width="0.4"/>
<line x1="242.29" y1="117.85" x2="242.29" y2="119.25" stroke="#777" stroke-width="0.4"/>
<line x1="243.3" y1="117.85" x2="243.3" y2="119.25" stroke="#777" stroke-width="0.4"/>
<line x1="244.2" y1="117.85" x2="244.2" y2="119.25" stroke="#777" stroke-width="0.4"/>
<line x1="249.67" y1="117.85" x2="249.67" y2="119.25" stroke="#777" stroke-width="0.4"/>
<line x1="252.4" y1="117.85" x2="252.4" y2="119.25" stroke="#777" stroke-width="0.4"/>
<line x1="254.33" y1="117.85" x2="254.33" y2="119.25" stroke="#777" stroke-width="0.4"/>
<line x1="255.83" y1="117.85" x2="255.83" y2="119.25" stroke="#777" stroke-width="0.4"/>
<line x1="257.06" y1="117.85" x2="257.06" y2="119.25" stroke="#777" stroke-width="0.4"/>
<line x1="258.1" y1="117.85" x2="258.1" y2="119.25" stroke="#777" stroke-width="0.4"/>
<line x1="259" y1="117.85" x2="259" y2="119.25" stroke="#777" stroke-width="0.4"/>
<line x1="259.79" y1="117.85" x2="259.79" y2="119.25" stroke="#777" stroke-width="0.4"/>
<text x="215.5" y="126.6" font-size="4.5" text-anchor="middle" fill="#555">0</text>
<text x="227.5" y="126.6" font-size="4.5" text-anchor="middle" fill="#555">10²</text>
<text x="245" y="126.6" font-size="4.5" text-anchor="middle" fill="#555">10³</text>
<text x="260.5" y="126.6" font-size="4.5" text-anchor="middle" fill="#555">10⁴</text>
</g>
<g>
<rect x="268.5" y="5.5" width="56.60000000000002" height="111.6" fill="#fff"/>
<line x1="268.5" y1="61.6" x2="325.1" y2="61.6" stroke="#8a8a8a" stroke-width="0.9"/>
<path d="M269 61.6 L269 61.55 269.25 61.54 269.5 61.53 269.75 61.52 270 61.5 270.25 61.48 270.5 61.46 270.75 61.43 271 61.4 271.25 61.36 271.5 61.32 271.75 61.26 272.01 61.2 272.26 61.12 272.51 61.04 272.76 60.94 273.01 60.83 273.26 60.71 273.51 60.58 273.76 60.43 274.01 60.28 274.26 60.12 274.51 59.95 274.76 59.78 275.01 59.6 275.26 59.43 275.51 59.26 275.76 59.08 276.01 58.91 276.26 58.74 276.51 58.57 276.76 58.4 277.01 58.22 277.26 58.02 277.52 57.79 277.77 57.52 278.02 57.17 278.27 56.72 278.52 56.13 278.77 55.33 279.02 54.26 279.27 52.85 279.52 51.04 279.77 48.78 280.02 46.05 280.27 42.89 280.52 39.35 280.77 35.57 281.02 31.71 281.27 27.95 281.52 24.49 281.77 21.5 282.02 19.1 282.27 17.35 282.52 16.23 282.77 15.54 283.03 14.97 283.28 14.51 283.53 14.18 283.78 13.99 284.03 13.96 284.28 14.07 284.53 14.34 284.78 14.75 285.03 15.29 285.28 15.96 285.53 16.74 285.78 17.61 286.03 18.55 286.28 19.56 286.53 20.6 286.78 21.67 287.03 22.75 287.28 23.82 287.53 24.87 287.78 25.89 288.03 26.87 288.28 27.81 288.54 28.69 288.79 29.53 289.04 30.31 289.29 31.04 289.54 31.72 289.79 32.37 290.04 32.98 290.29 33.56 290.54 34.11 290.79 34.65 291.04 35.18 291.29 35.7 291.54 36.22 291.79 36.74 292.04 37.28 292.29 37.82 292.54 38.38 292.79 38.95 293.04 39.54 293.29 40.14 293.54 40.76 293.79 41.39 294.05 42.03 294.3 42.69 294.55 43.35 294.8 44.03 295.05 44.7 295.3 45.39 295.55 46.07 295.8 46.75 296.05 47.42 296.3 48.09 296.55 48.76 296.8 49.41 297.05 50.05 297.3 50.67 297.55 51.29 297.8 51.88 298.05 52.46 298.3 53.02 298.55 53.56 298.8 54.08 299.05 54.58 299.3 55.06 299.55 55.52 299.81 55.95 300.06 56.37 300.31 56.76 300.56 57.13 300.81 57.48 301.06 57.81 301.31 58.12 301.56 58.41 301.81 58.68 302.06 58.94 302.31 59.17 302.56 59.39 302.81 59.6 303.06 59.78 303.31 59.96 303.56 60.12 303.81 60.26 304.06 60.4 304.31 60.52 304.56 60.63 304.81 60.73 305.06 60.83 305.32 60.91 305.57 60.99 305.82 61.06 306.07 61.12 306.32 61.17 306.57 61.22 306.82 61.27 307.07 61.31 307.32 61.34 307.57 61.37 307.82 61.4 308.07 61.43 308.32 61.45 308.57 61.47 308.82 61.49 309.07 61.5 309.32 61.51 309.57 61.53 309.82 61.54 310.07 61.55 310.32 61.55 310.57 61.56 310.83 61.57 311.08 61.57 311.33 61.57 311.58 61.58 311.83 61.58 312.08 61.58 312.33 61.59 312.58 61.59 312.83 61.59 313.08 61.59 313.33 61.59 313.58 61.59 313.83 61.6 314.08 61.6 314.33 61.6 314.58 61.6 314.83 61.6 315.08 61.6 315.33 61.6 315.58 61.6 315.83 61.6 316.08 61.6 316.34 61.6 316.59 61.6 316.84 61.6 317.09 61.6 317.34 61.6 317.59 61.6 317.84 61.6 318.09 61.6 318.34 61.6 318.59 61.6 318.84 61.6 319.09 61.6 319.34 61.6 319.59 61.6 319.84 61.6 320.09 61.6 320.34 61.6 320.59 61.6 320.84 61.6 321.09 61.6 321.34 61.6 321.59 61.6 321.85 61.6 322.1 61.6 322.35 61.6 322.6 61.6 322.85 61.6 323.1 61.6 323.35 61.6 323.6 61.6 323.85 61.6 324.1 61.6 324.35 61.6 324.6 61.6 L324.6 61.6 Z" fill="#050505"/>
<line x1="268.5" y1="75.35" x2="325.1" y2="75.35" stroke="#8a8a8a" stroke-width="0.9"/>
<path d="M269 75.35 L269 75.3 269.25 75.29 269.5 75.28 269.75 75.27 270 75.25 270.25 75.23 270.5 75.21 270.75 75.18 271 75.15 271.25 75.11 271.5 75.07 271.75 75.01 272.01 74.95 272.26 74.87 272.51 74.79 272.76 74.69 273.01 74.58 273.26 74.46 273.51 74.33 273.76 74.18 274.01 74.03 274.26 73.87 274.51 73.7 274.76 73.53 275.01 73.35 275.26 73.18 275.51 73.01 275.76 72.83 276.01 72.66 276.26 72.49 276.51 72.32 276.76 72.15 277.01 71.97 277.26 71.77 277.52 71.54 277.77 71.27 278.02 70.92 278.27 70.47 278.52 69.88 278.77 69.08 279.02 68.01 279.27 66.6 279.52 64.79 279.77 62.53 280.02 59.8 280.27 56.64 280.52 53.1 280.77 49.32 281.02 45.46 281.27 41.7 281.52 38.24 281.77 35.25 282.02 32.85 282.27 31.1 282.52 29.98 282.77 29.29 283.03 28.72 283.28 28.26 283.53 27.93 283.78 27.74 284.03 27.71 284.28 27.82 284.53 28.09 284.78 28.5 285.03 29.04 285.28 29.71 285.53 30.49 285.78 31.36 286.03 32.3 286.28 33.31 286.53 34.35 286.78 35.42 287.03 36.5 287.28 37.57 287.53 38.62 287.78 39.64 288.03 40.62 288.28 41.56 288.54 42.44 288.79 43.28 289.04 44.06 289.29 44.79 289.54 45.47 289.79 46.12 290.04 46.73 290.29 47.31 290.54 47.86 290.79 48.4 291.04 48.93 291.29 49.45 291.54 49.97 291.79 50.49 292.04 51.03 292.29 51.57 292.54 52.13 292.79 52.7 293.04 53.29 293.29 53.89 293.54 54.51 293.79 55.14 294.05 55.78 294.3 56.44 294.55 57.1 294.8 57.78 295.05 58.45 295.3 59.14 295.55 59.82 295.8 60.5 296.05 61.17 296.3 61.84 296.55 62.51 296.8 63.16 297.05 63.8 297.3 64.42 297.55 65.04 297.8 65.63 298.05 66.21 298.3 66.77 298.55 67.31 298.8 67.83 299.05 68.33 299.3 68.81 299.55 69.27 299.81 69.7 300.06 70.12 300.31 70.51 300.56 70.88 300.81 71.23 301.06 71.56 301.31 71.87 301.56 72.16 301.81 72.43 302.06 72.69 302.31 72.92 302.56 73.14 302.81 73.35 303.06 73.53 303.31 73.71 303.56 73.87 303.81 74.01 304.06 74.15 304.31 74.27 304.56 74.38 304.81 74.48 305.06 74.58 305.32 74.66 305.57 74.74 305.82 74.81 306.07 74.87 306.32 74.92 306.57 74.97 306.82 75.02 307.07 75.06 307.32 75.09 307.57 75.12 307.82 75.15 308.07 75.18 308.32 75.2 308.57 75.22 308.82 75.24 309.07 75.25 309.32 75.26 309.57 75.28 309.82 75.29 310.07 75.3 310.32 75.3 310.57 75.31 310.83 75.32 311.08 75.32 311.33 75.32 311.58 75.33 311.83 75.33 312.08 75.33 312.33 75.34 312.58 75.34 312.83 75.34 313.08 75.34 313.33 75.34 313.58 75.34 313.83 75.35 314.08 75.35 314.33 75.35 314.58 75.35 314.83 75.35 315.08 75.35 315.33 75.35 315.58 75.35 315.83 75.35 316.08 75.35 316.34 75.35 316.59 75.35 316.84 75.35 317.09 75.35 317.34 75.35 317.59 75.35 317.84 75.35 318.09 75.35 318.34 75.35 318.59 75.35 318.84 75.35 319.09 75.35 319.34 75.35 319.59 75.35 319.84 75.35 320.09 75.35 320.34 75.35 320.59 75.35 320.84 75.35 321.09 75.35 321.34 75.35 321.59 75.35 321.85 75.35 322.1 75.35 322.35 75.35 322.6 75.35 322.85 75.35 323.1 75.35 323.35 75.35 323.6 75.35 323.85 75.35 324.1 75.35 324.35 75.35 324.6 75.35 L324.6 75.35 Z" fill="#050505"/>
<line x1="268.5" y1="89.4" x2="325.1" y2="89.4" stroke="#8a8a8a" stroke-width="0.9"/>
<path d="M269 89.4 L269 89.4 269.25 89.4 269.5 89.4 269.75 89.4 270 89.4 270.25 89.4 270.5 89.4 270.75 89.4 271 89.4 271.25 89.4 271.5 89.4 271.75 89.4 272.01 89.4 272.26 89.4 272.51 89.4 272.76 89.4 273.01 89.4 273.26 89.4 273.51 89.4 273.76 89.4 274.01 89.4 274.26 89.4 274.51 89.4 274.76 89.4 275.01 89.4 275.26 89.4 275.51 89.4 275.76 89.4 276.01 89.4 276.26 89.4 276.51 89.4 276.76 89.4 277.01 89.4 277.26 89.4 277.52 89.4 277.77 89.4 278.02 89.4 278.27 89.4 278.52 89.4 278.77 89.4 279.02 89.4 279.27 89.4 279.52 89.4 279.77 89.4 280.02 89.4 280.27 89.4 280.52 89.4 280.77 89.4 281.02 89.4 281.27 89.4 281.52 89.4 281.77 89.4 282.02 89.39 282.27 89.39 282.52 89.39 282.77 89.38 283.03 89.38 283.28 89.37 283.53 89.36 283.78 89.34 284.03 89.32 284.28 89.3 284.53 89.27 284.78 89.23 285.03 89.18 285.28 89.12 285.53 89.05 285.78 88.96 286.03 88.86 286.28 88.73 286.53 88.59 286.78 88.43 287.03 88.25 287.28 88.05 287.53 87.83 287.78 87.58 288.03 87.32 288.28 87.04 288.54 86.75 288.79 86.45 289.04 86.14 289.29 85.84 289.54 85.53 289.79 85.23 290.04 84.94 290.29 84.66 290.54 84.4 290.79 84.15 291.04 83.91 291.29 83.69 291.54 83.48 291.79 83.28 292.04 83.08 292.29 82.87 292.54 82.66 292.79 82.42 293.04 82.16 293.29 81.87 293.54 81.54 293.79 81.17 294.05 80.74 294.3 80.27 294.55 79.73 294.8 79.13 295.05 78.47 295.3 77.74 295.55 76.95 295.8 76.1 296.05 75.19 296.3 74.22 296.55 73.2 296.8 72.13 297.05 71.01 297.3 69.85 297.55 68.65 297.8 67.43 298.05 66.17 298.3 64.9 298.55 63.61 298.8 62.31 299.05 61.01 299.3 59.71 299.55 58.42 299.81 57.14 300.06 55.88 300.31 54.65 300.56 53.44 300.81 52.27 301.06 51.14 301.31 50.05 301.56 49.01 301.81 48.03 302.06 47.1 302.31 46.22 302.56 45.41 302.81 44.67 303.06 43.99 303.31 43.37 303.56 42.82 303.81 42.34 304.06 41.93 304.31 41.58 304.56 41.29 304.81 41.06 305.06 40.9 305.32 40.78 305.57 40.71 305.82 40.68 306.07 40.69 306.32 40.82 306.57 41.15 306.82 41.74 307.07 42.6 307.32 43.74 307.57 45.16 307.82 46.86 308.07 48.81 308.32 50.98 308.57 53.35 308.82 55.86 309.07 58.48 309.32 61.17 309.57 63.86 309.82 66.53 310.07 69.12 310.32 71.6 310.57 73.94 310.83 76.12 311.08 78.11 311.33 79.92 311.58 81.52 311.83 82.93 312.08 84.14 312.33 85.18 312.58 86.06 312.83 86.78 313.08 87.37 313.33 87.85 313.58 88.23 313.83 88.53 314.08 88.76 314.33 88.94 314.58 89.07 314.83 89.17 315.08 89.24 315.33 89.29 315.58 89.32 315.83 89.35 316.08 89.37 316.34 89.38 316.59 89.39 316.84 89.39 317.09 89.39 317.34 89.4 317.59 89.4 317.84 89.4 318.09 89.4 318.34 89.4 318.59 89.4 318.84 89.4 319.09 89.4 319.34 89.4 319.59 89.4 319.84 89.4 320.09 89.4 320.34 89.4 320.59 89.4 320.84 89.4 321.09 89.4 321.34 89.4 321.59 89.4 321.85 89.4 322.1 89.4 322.35 89.4 322.6 89.4 322.85 89.4 323.1 89.4 323.35 89.4 323.6 89.4 323.85 89.4 324.1 89.4 324.35 89.4 324.6 89.4 L324.6 89.4 Z" fill="#fffbd2"/>
<path d="M283.78 89.34 L284.03 89.32 L284.28 89.3 L284.53 89.27 L284.78 89.23 L285.03 89.18 L285.28 89.12 L285.53 89.05 L285.78 88.96 L286.03 88.86 L286.28 88.73 L286.53 88.59 L286.78 88.43 L287.03 88.25 L287.28 88.05 L287.53 87.83 L287.78 87.58 L288.03 87.32 L288.28 87.04 L288.54 86.75 L288.79 86.45 L289.04 86.14 L289.29 85.84 L289.54 85.53 L289.79 85.23 L290.04 84.94 L290.29 84.66 L290.54 84.4 L290.79 84.15 L291.04 83.91 L291.29 83.69 L291.54 83.48 L291.79 83.28 L292.04 83.08 L292.29 82.87 L292.54 82.66 L292.79 82.42 L293.04 82.16 L293.29 81.87 L293.54 81.54 L293.79 81.17 L294.05 80.74 L294.3 80.27 L294.55 79.73 L294.8 79.13 L295.05 78.47 L295.3 77.74 L295.55 76.95 L295.8 76.1 L296.05 75.19 L296.3 74.22 L296.55 73.2 L296.8 72.13 L297.05 71.01 L297.3 69.85 L297.55 68.65 L297.8 67.43 L298.05 66.17 L298.3 64.9 L298.55 63.61 L298.8 62.31 L299.05 61.01 L299.3 59.71 L299.55 58.42 L299.81 57.14 L300.06 55.88 L300.31 54.65 L300.56 53.44 L300.81 52.27 L301.06 51.14 L301.31 50.05 L301.56 49.01 L301.81 48.03 L302.06 47.1 L302.31 46.22 L302.56 45.41 L302.81 44.67 L303.06 43.99 L303.31 43.37 L303.56 42.82 L303.81 42.34 L304.06 41.93 L304.31 41.58 L304.56 41.29 L304.81 41.06 L305.06 40.9 L305.32 40.78 L305.57 40.71 L305.82 40.68 L306.07 40.69 L306.32 40.82 L306.57 41.15 L306.82 41.74 L307.07 42.6 L307.32 43.74 L307.57 45.16 L307.82 46.86 L308.07 48.81 L308.32 50.98 L308.57 53.35 L308.82 55.86 L309.07 58.48 L309.32 61.17 L309.57 63.86 L309.82 66.53 L310.07 69.12 L310.32 71.6 L310.57 73.94 L310.83 76.12 L311.08 78.11 L311.33 79.92 L311.58 81.52 L311.83 82.93 L312.08 84.14 L312.33 85.18 L312.58 86.06 L312.83 86.78 L313.08 87.37 L313.33 87.85 L313.58 88.23 L313.83 88.53 L314.08 88.76 L314.33 88.94 L314.58 89.07 L314.83 89.17 L315.08 89.24 L315.33 89.29 L315.58 89.32 L315.83 89.35 L316.08 89.37" fill="none" stroke="#6e6a48" stroke-width="0.6"/>
<line x1="268.5" y1="103.2" x2="325.1" y2="103.2" stroke="#8a8a8a" stroke-width="0.9"/>
<path d="M269 103.2 L269 103.2 269.25 103.2 269.5 103.2 269.75 103.2 270 103.2 270.25 103.2 270.5 103.2 270.75 103.2 271 103.19 271.25 103.19 271.5 103.19 271.75 103.18 272.01 103.18 272.26 103.17 272.51 103.15 272.76 103.13 273.01 103.11 273.26 103.08 273.51 103.04 273.76 102.98 274.01 102.91 274.26 102.82 274.51 102.71 274.76 102.56 275.01 102.38 275.26 102.16 275.51 101.88 275.76 101.54 276.01 101.13 276.26 100.64 276.51 100.05 276.76 99.36 277.01 98.55 277.26 97.61 277.52 96.54 277.77 95.32 278.02 93.94 278.27 92.4 278.52 90.7 278.77 88.84 279.02 86.83 279.27 84.67 279.52 82.38 279.77 79.99 280.02 77.51 280.27 74.98 280.52 72.43 280.77 69.9 281.02 67.42 281.27 65.05 281.52 62.82 281.77 60.78 282.02 58.97 282.27 57.42 282.52 56.16 282.77 55.23 283.03 54.63 283.28 54.39 283.53 54.47 283.78 54.82 284.03 55.44 284.28 56.31 284.53 57.41 284.78 58.73 285.03 60.24 285.28 61.92 285.53 63.73 285.78 65.66 286.03 67.66 286.28 69.73 286.53 71.81 286.78 73.9 287.03 75.98 287.28 78.01 287.53 79.98 287.78 81.88 288.03 83.69 288.28 85.42 288.54 87.04 288.79 88.57 289.04 89.99 289.29 91.31 289.54 92.54 289.79 93.66 290.04 94.7 290.29 95.65 290.54 96.51 290.79 97.3 291.04 98.02 291.29 98.67 291.54 99.25 291.79 99.78 292.04 100.25 292.29 100.67 292.54 101.04 292.79 101.37 293.04 101.66 293.29 101.91 293.54 102.13 293.79 102.32 294.05 102.48 294.3 102.61 294.55 102.73 294.8 102.82 295.05 102.9 295.3 102.96 295.55 103.02 295.8 103.06 296.05 103.09 296.3 103.12 296.55 103.14 296.8 103.15 297.05 103.17 297.3 103.17 297.55 103.18 297.8 103.19 298.05 103.19 298.3 103.19 298.55 103.2 298.8 103.2 299.05 103.2 299.3 103.2 299.55 103.2 299.81 103.2 300.06 103.2 300.31 103.2 300.56 103.2 300.81 103.2 301.06 103.2 301.31 103.2 301.56 103.2 301.81 103.2 302.06 103.2 302.31 103.2 302.56 103.2 302.81 103.2 303.06 103.2 303.31 103.2 303.56 103.2 303.81 103.2 304.06 103.2 304.31 103.2 304.56 103.2 304.81 103.2 305.06 103.2 305.32 103.2 305.57 103.2 305.82 103.2 306.07 103.2 306.32 103.2 306.57 103.2 306.82 103.2 307.07 103.2 307.32 103.2 307.57 103.2 307.82 103.2 308.07 103.2 308.32 103.2 308.57 103.2 308.82 103.2 309.07 103.2 309.32 103.2 309.57 103.2 309.82 103.2 310.07 103.2 310.32 103.2 310.57 103.2 310.83 103.2 311.08 103.2 311.33 103.2 311.58 103.2 311.83 103.2 312.08 103.2 312.33 103.2 312.58 103.2 312.83 103.2 313.08 103.2 313.33 103.2 313.58 103.2 313.83 103.2 314.08 103.2 314.33 103.2 314.58 103.2 314.83 103.2 315.08 103.2 315.33 103.2 315.58 103.2 315.83 103.2 316.08 103.2 316.34 103.2 316.59 103.2 316.84 103.2 317.09 103.2 317.34 103.2 317.59 103.2 317.84 103.2 318.09 103.2 318.34 103.2 318.59 103.2 318.84 103.2 319.09 103.2 319.34 103.2 319.59 103.2 319.84 103.2 320.09 103.2 320.34 103.2 320.59 103.2 320.84 103.2 321.09 103.2 321.34 103.2 321.59 103.2 321.85 103.2 322.1 103.2 322.35 103.2 322.6 103.2 322.85 103.2 323.1 103.2 323.35 103.2 323.6 103.2 323.85 103.2 324.1 103.2 324.35 103.2 324.6 103.2 L324.6 103.2 Z" fill="#10107e"/>
<line x1="268.5" y1="117.1" x2="325.1" y2="117.1" stroke="#8a8a8a" stroke-width="0.9"/>
<path d="M269 117.1 L269 117.09 269.25 117.08 269.5 117.08 269.75 117.07 270 117.05 270.25 117.04 270.5 117.02 270.75 116.99 271 116.96 271.25 116.92 271.5 116.87 271.75 116.81 272.01 116.75 272.26 116.68 272.51 116.6 272.76 116.52 273.01 116.43 273.26 116.34 273.51 116.25 273.76 116.16 274.01 116.07 274.26 115.99 274.51 115.92 274.76 115.85 275.01 115.8 275.26 115.76 275.51 115.72 275.76 115.69 276.01 115.67 276.26 115.65 276.51 115.63 276.76 115.61 277.01 115.59 277.26 115.56 277.52 115.53 277.77 115.49 278.02 115.44 278.27 115.38 278.52 115.32 278.77 115.26 279.02 115.2 279.27 115.14 279.52 115.07 279.77 115.02 280.02 114.97 280.27 114.93 280.52 114.91 280.77 114.89 281.02 114.89 281.27 114.9 281.52 114.93 281.77 114.97 282.02 115.02 282.27 115.09 282.52 115.17 282.77 115.25 283.03 115.35 283.28 115.45 283.53 115.56 283.78 115.67 284.03 115.78 284.28 115.89 284.53 116 284.78 116.1 285.03 116.2 285.28 116.3 285.53 116.39 285.78 116.47 286.03 116.55 286.28 116.62 286.53 116.68 286.78 116.74 287.03 116.79 287.28 116.83 287.53 116.86 287.78 116.89 288.03 116.91 288.28 116.93 288.54 116.94 288.79 116.95 289.04 116.95 289.29 116.94 289.54 116.93 289.79 116.92 290.04 116.9 290.29 116.87 290.54 116.84 290.79 116.8 291.04 116.76 291.29 116.71 291.54 116.66 291.79 116.6 292.04 116.53 292.29 116.46 292.54 116.37 292.79 116.28 293.04 116.18 293.29 116.07 293.54 115.95 293.79 115.82 294.05 115.68 294.3 115.53 294.55 115.37 294.8 115.2 295.05 115.01 295.3 114.81 295.55 114.6 295.8 114.37 296.05 114.13 296.3 113.86 296.55 113.58 296.8 113.29 297.05 112.96 297.3 112.62 297.55 112.24 297.8 111.84 298.05 111.41 298.3 110.94 298.55 110.43 298.8 109.88 299.05 109.28 299.3 108.63 299.55 107.92 299.81 107.16 300.06 106.33 300.31 105.44 300.56 104.48 300.81 103.44 301.06 102.33 301.31 101.15 301.56 99.89 301.81 98.55 302.06 97.15 302.31 95.67 302.56 94.13 302.81 92.53 303.06 90.89 303.31 89.2 303.56 87.48 303.81 85.74 304.06 84 304.31 82.27 304.56 80.57 304.81 78.91 305.06 77.3 305.32 75.77 305.57 74.34 305.82 73.01 306.07 71.8 306.32 70.74 306.57 69.83 306.82 69.08 307.07 68.51 307.32 68.12 307.57 67.92 307.82 67.91 308.07 68.13 308.32 68.61 308.57 69.33 308.82 70.29 309.07 71.48 309.32 72.87 309.57 74.45 309.82 76.19 310.07 78.07 310.32 80.06 310.57 82.14 310.83 84.28 311.08 86.46 311.33 88.64 311.58 90.81 311.83 92.95 312.08 95.03 312.33 97.04 312.58 98.97 312.83 100.8 313.08 102.52 313.33 104.14 313.58 105.63 313.83 107.01 314.08 108.27 314.33 109.41 314.58 110.45 314.83 111.37 315.08 112.2 315.33 112.92 315.58 113.56 315.83 114.12 316.08 114.6 316.34 115.02 316.59 115.37 316.84 115.68 317.09 115.93 317.34 116.15 317.59 116.33 317.84 116.48 318.09 116.6 318.34 116.7 318.59 116.78 318.84 116.85 319.09 116.9 319.34 116.95 319.59 116.98 319.84 117.01 320.09 117.03 320.34 117.05 320.59 117.06 320.84 117.07 321.09 117.08 321.34 117.08 321.59 117.09 321.85 117.09 322.1 117.09 322.35 117.09 322.6 117.1 322.85 117.1 323.1 117.1 323.35 117.1 323.6 117.1 323.85 117.1 324.1 117.1 324.35 117.1 324.6 117.1 L324.6 117.1 Z" fill="#fffbd2"/>
<path d="M270.25 117.04 L270.5 117.02 L270.75 116.99 L271 116.96 L271.25 116.92 L271.5 116.87 L271.75 116.81 L272.01 116.75 L272.26 116.68 L272.51 116.6 L272.76 116.52 L273.01 116.43 L273.26 116.34 L273.51 116.25 L273.76 116.16 L274.01 116.07 L274.26 115.99 L274.51 115.92 L274.76 115.85 L275.01 115.8 L275.26 115.76 L275.51 115.72 L275.76 115.69 L276.01 115.67 L276.26 115.65 L276.51 115.63 L276.76 115.61 L277.01 115.59 L277.26 115.56 L277.52 115.53 L277.77 115.49 L278.02 115.44 L278.27 115.38 L278.52 115.32 L278.77 115.26 L279.02 115.2 L279.27 115.14 L279.52 115.07 L279.77 115.02 L280.02 114.97 L280.27 114.93 L280.52 114.91 L280.77 114.89 L281.02 114.89 L281.27 114.9 L281.52 114.93 L281.77 114.97 L282.02 115.02 L282.27 115.09 L282.52 115.17 L282.77 115.25 L283.03 115.35 L283.28 115.45 L283.53 115.56 L283.78 115.67 L284.03 115.78 L284.28 115.89 L284.53 116 L284.78 116.1 L285.03 116.2 L285.28 116.3 L285.53 116.39 L285.78 116.47 L286.03 116.55 L286.28 116.62 L286.53 116.68 L286.78 116.74 L287.03 116.79 L287.28 116.83 L287.53 116.86 L287.78 116.89 L288.03 116.91 L288.28 116.93 L288.54 116.94 L288.79 116.95 L289.04 116.95 L289.29 116.94 L289.54 116.93 L289.79 116.92 L290.04 116.9 L290.29 116.87 L290.54 116.84 L290.79 116.8 L291.04 116.76 L291.29 116.71 L291.54 116.66 L291.79 116.6 L292.04 116.53 L292.29 116.46 L292.54 116.37 L292.79 116.28 L293.04 116.18 L293.29 116.07 L293.54 115.95 L293.79 115.82 L294.05 115.68 L294.3 115.53 L294.55 115.37 L294.8 115.2 L295.05 115.01 L295.3 114.81 L295.55 114.6 L295.8 114.37 L296.05 114.13 L296.3 113.86 L296.55 113.58 L296.8 113.29 L297.05 112.96 L297.3 112.62 L297.55 112.24 L297.8 111.84 L298.05 111.41 L298.3 110.94 L298.55 110.43 L298.8 109.88 L299.05 109.28 L299.3 108.63 L299.55 107.92 L299.81 107.16 L300.06 106.33 L300.31 105.44 L300.56 104.48 L300.81 103.44 L301.06 102.33 L301.31 101.15 L301.56 99.89 L301.81 98.55 L302.06 97.15 L302.31 95.67 L302.56 94.13 L302.81 92.53 L303.06 90.89 L303.31 89.2 L303.56 87.48 L303.81 85.74 L304.06 84 L304.31 82.27 L304.56 80.57 L304.81 78.91 L305.06 77.3 L305.32 75.77 L305.57 74.34 L305.82 73.01 L306.07 71.8 L306.32 70.74 L306.57 69.83 L306.82 69.08 L307.07 68.51 L307.32 68.12 L307.57 67.92 L307.82 67.91 L308.07 68.13 L308.32 68.61 L308.57 69.33 L308.82 70.29 L309.07 71.48 L309.32 72.87 L309.57 74.45 L309.82 76.19 L310.07 78.07 L310.32 80.06 L310.57 82.14 L310.83 84.28 L311.08 86.46 L311.33 88.64 L311.58 90.81 L311.83 92.95 L312.08 95.03 L312.33 97.04 L312.58 98.97 L312.83 100.8 L313.08 102.52 L313.33 104.14 L313.58 105.63 L313.83 107.01 L314.08 108.27 L314.33 109.41 L314.58 110.45 L314.83 111.37 L315.08 112.2 L315.33 112.92 L315.58 113.56 L315.83 114.12 L316.08 114.6 L316.34 115.02 L316.59 115.37 L316.84 115.68 L317.09 115.93 L317.34 116.15 L317.59 116.33 L317.84 116.48 L318.09 116.6 L318.34 116.7 L318.59 116.78 L318.84 116.85 L319.09 116.9 L319.34 116.95 L319.59 116.98 L319.84 117.01 L320.09 117.03 L320.34 117.05 L320.59 117.06" fill="none" stroke="#6e6a48" stroke-width="0.6"/>
<rect x="268.5" y="5.5" width="56.60000000000002" height="111.6" fill="none" stroke="#8c8c8c" stroke-width="1"/>
<line x1="268.5" y1="117.6" x2="325.1" y2="117.6" stroke="#222" stroke-width="1"/>
<rect x="268.5" y="117.6" width="8.5" height="2" fill="#111"/>
<line x1="280.5" y1="117.6" x2="280.5" y2="120.1" stroke="#333" stroke-width="0.6"/>
<line x1="293.0" y1="117.6" x2="293.0" y2="120.1" stroke="#333" stroke-width="0.6"/>
<line x1="308.0" y1="117.6" x2="308.0" y2="120.1" stroke="#333" stroke-width="0.6"/>
<line x1="323.0" y1="117.6" x2="323.0" y2="120.1" stroke="#333" stroke-width="0.6"/>
<line x1="297.52" y1="117.6" x2="297.52" y2="119.0" stroke="#777" stroke-width="0.4"/>
<line x1="300.16" y1="117.6" x2="300.16" y2="119.0" stroke="#777" stroke-width="0.4"/>
<line x1="302.03" y1="117.6" x2="302.03" y2="119.0" stroke="#777" stroke-width="0.4"/>
<line x1="303.48" y1="117.6" x2="303.48" y2="119.0" stroke="#777" stroke-width="0.4"/>
<line x1="304.67" y1="117.6" x2="304.67" y2="119.0" stroke="#777" stroke-width="0.4"/>
<line x1="305.68" y1="117.6" x2="305.68" y2="119.0" stroke="#777" stroke-width="0.4"/>
<line x1="306.55" y1="117.6" x2="306.55" y2="119.0" stroke="#777" stroke-width="0.4"/>
<line x1="307.31" y1="117.6" x2="307.31" y2="119.0" stroke="#777" stroke-width="0.4"/>
<line x1="312.52" y1="117.6" x2="312.52" y2="119.0" stroke="#777" stroke-width="0.4"/>
<line x1="315.16" y1="117.6" x2="315.16" y2="119.0" stroke="#777" stroke-width="0.4"/>
<line x1="317.03" y1="117.6" x2="317.03" y2="119.0" stroke="#777" stroke-width="0.4"/>
<line x1="318.48" y1="117.6" x2="318.48" y2="119.0" stroke="#777" stroke-width="0.4"/>
<line x1="319.67" y1="117.6" x2="319.67" y2="119.0" stroke="#777" stroke-width="0.4"/>
<line x1="320.68" y1="117.6" x2="320.68" y2="119.0" stroke="#777" stroke-width="0.4"/>
<line x1="321.55" y1="117.6" x2="321.55" y2="119.0" stroke="#777" stroke-width="0.4"/>
<line x1="322.31" y1="117.6" x2="322.31" y2="119.0" stroke="#777" stroke-width="0.4"/>
<text x="280.5" y="126.6" font-size="4.5" text-anchor="middle" fill="#555">0</text>
<text x="293" y="126.6" font-size="4.5" text-anchor="middle" fill="#555">10²</text>
<text x="308" y="126.6" font-size="4.5" text-anchor="middle" fill="#555">10³</text>
<text x="323" y="126.6" font-size="4.5" text-anchor="middle" fill="#555">10⁴</text>
</g>
<g>
<rect x="331.5" y="5.5" width="56.5" height="111.4" fill="#fff"/>
<line x1="331.5" y1="61.3" x2="388.0" y2="61.3" stroke="#8a8a8a" stroke-width="0.9"/>
<path d="M332 61.3 L332 61.3 332.25 61.3 332.5 61.3 332.75 61.3 333 61.3 333.25 61.3 333.5 61.3 333.75 61.29 334 61.29 334.25 61.28 334.5 61.27 334.75 61.26 335 61.24 335.25 61.22 335.5 61.18 335.75 61.13 336 61.07 336.25 60.99 336.5 60.88 336.75 60.76 337 60.6 337.25 60.42 337.5 60.21 337.75 59.96 338 59.69 338.25 59.4 338.5 59.08 338.75 58.74 339 58.37 339.25 58 339.5 57.6 339.75 57.17 340 56.72 340.25 56.22 340.5 55.66 340.75 55.03 341 54.3 341.25 53.46 341.5 52.48 341.75 51.34 342 50.04 342.25 48.54 342.5 46.86 342.75 44.99 343 42.93 343.25 40.71 343.5 38.34 343.75 35.85 344 33.27 344.25 30.66 344.5 28.05 344.75 25.49 345 23.05 345.25 20.75 345.5 18.67 345.75 16.85 346 15.32 346.25 14.13 346.5 13.31 346.75 12.87 347 12.83 347.25 13.21 347.5 13.98 347.75 15.14 348 16.66 348.25 18.5 348.5 20.61 348.75 22.95 349 25.46 349.25 28.09 349.5 30.79 349.75 33.52 350 36.21 350.25 38.84 350.5 41.36 350.75 43.75 351 45.99 351.25 48.05 351.5 49.94 351.75 51.64 352 53.15 352.25 54.49 352.5 55.66 352.75 56.66 353 57.52 353.25 58.25 353.5 58.86 353.75 59.36 354 59.77 354.25 60.11 354.5 60.38 354.75 60.59 355 60.76 355.25 60.89 355.5 61 355.75 61.07 356 61.13 356.25 61.18 356.5 61.21 356.75 61.24 357 61.26 357.25 61.27 357.5 61.28 357.75 61.28 358 61.29 358.25 61.29 358.5 61.3 358.75 61.3 359 61.3 359.25 61.3 359.5 61.3 359.75 61.3 360 61.3 360.25 61.3 360.5 61.3 360.75 61.3 361 61.3 361.25 61.3 361.5 61.3 361.75 61.3 362 61.3 362.25 61.3 362.5 61.3 362.75 61.3 363 61.3 363.25 61.3 363.5 61.3 363.75 61.3 364 61.3 364.25 61.3 364.5 61.3 364.75 61.3 365 61.3 365.25 61.3 365.5 61.3 365.75 61.3 366 61.3 366.25 61.3 366.5 61.3 366.75 61.3 367 61.3 367.25 61.3 367.5 61.3 367.75 61.3 368 61.3 368.25 61.3 368.5 61.3 368.75 61.3 369 61.3 369.25 61.3 369.5 61.3 369.75 61.3 370 61.3 370.25 61.3 370.5 61.3 370.75 61.3 371 61.3 371.25 61.3 371.5 61.3 371.75 61.3 372 61.3 372.25 61.3 372.5 61.3 372.75 61.3 373 61.3 373.25 61.3 373.5 61.3 373.75 61.3 374 61.3 374.25 61.3 374.5 61.3 374.75 61.3 375 61.3 375.25 61.3 375.5 61.3 375.75 61.3 376 61.3 376.25 61.3 376.5 61.3 376.75 61.3 377 61.3 377.25 61.3 377.5 61.3 377.75 61.3 378 61.3 378.25 61.3 378.5 61.3 378.75 61.3 379 61.3 379.25 61.3 379.5 61.3 379.75 61.3 380 61.3 380.25 61.3 380.5 61.3 380.75 61.3 381 61.3 381.25 61.3 381.5 61.3 381.75 61.3 382 61.3 382.25 61.3 382.5 61.3 382.75 61.3 383 61.3 383.25 61.3 383.5 61.3 383.75 61.3 384 61.3 384.25 61.3 384.5 61.3 384.75 61.3 385 61.3 385.25 61.3 385.5 61.3 385.75 61.3 386 61.3 386.25 61.3 386.5 61.3 386.75 61.3 387 61.3 387.25 61.3 387.5 61.3 L387.5 61.3 Z" fill="#050505"/>
<line x1="331.5" y1="75.3" x2="388.0" y2="75.3" stroke="#8a8a8a" stroke-width="0.9"/>
<path d="M332 75.3 L332 75.3 332.25 75.3 332.5 75.3 332.75 75.3 333 75.3 333.25 75.3 333.5 75.3 333.75 75.29 334 75.29 334.25 75.28 334.5 75.27 334.75 75.26 335 75.24 335.25 75.22 335.5 75.18 335.75 75.13 336 75.07 336.25 74.99 336.5 74.88 336.75 74.76 337 74.6 337.25 74.42 337.5 74.21 337.75 73.96 338 73.69 338.25 73.4 338.5 73.08 338.75 72.74 339 72.37 339.25 72 339.5 71.6 339.75 71.17 340 70.72 340.25 70.22 340.5 69.66 340.75 69.03 341 68.3 341.25 67.46 341.5 66.48 341.75 65.34 342 64.04 342.25 62.54 342.5 60.86 342.75 58.99 343 56.93 343.25 54.71 343.5 52.34 343.75 49.85 344 47.27 344.25 44.66 344.5 42.05 344.75 39.49 345 37.05 345.25 34.75 345.5 32.67 345.75 30.85 346 29.32 346.25 28.13 346.5 27.31 346.75 26.87 347 26.83 347.25 27.21 347.5 27.98 347.75 29.14 348 30.66 348.25 32.5 348.5 34.61 348.75 36.95 349 39.46 349.25 42.09 349.5 44.79 349.75 47.52 350 50.21 350.25 52.84 350.5 55.36 350.75 57.75 351 59.99 351.25 62.05 351.5 63.94 351.75 65.64 352 67.15 352.25 68.49 352.5 69.66 352.75 70.66 353 71.52 353.25 72.25 353.5 72.86 353.75 73.36 354 73.77 354.25 74.11 354.5 74.38 354.75 74.59 355 74.76 355.25 74.89 355.5 75 355.75 75.07 356 75.13 356.25 75.18 356.5 75.21 356.75 75.24 357 75.26 357.25 75.27 357.5 75.28 357.75 75.28 358 75.29 358.25 75.29 358.5 75.3 358.75 75.3 359 75.3 359.25 75.3 359.5 75.3 359.75 75.3 360 75.3 360.25 75.3 360.5 75.3 360.75 75.3 361 75.3 361.25 75.3 361.5 75.3 361.75 75.3 362 75.3 362.25 75.3 362.5 75.3 362.75 75.3 363 75.3 363.25 75.3 363.5 75.3 363.75 75.3 364 75.3 364.25 75.3 364.5 75.3 364.75 75.3 365 75.3 365.25 75.3 365.5 75.3 365.75 75.3 366 75.3 366.25 75.3 366.5 75.3 366.75 75.3 367 75.3 367.25 75.3 367.5 75.3 367.75 75.3 368 75.3 368.25 75.3 368.5 75.3 368.75 75.3 369 75.3 369.25 75.3 369.5 75.3 369.75 75.3 370 75.3 370.25 75.3 370.5 75.3 370.75 75.3 371 75.3 371.25 75.3 371.5 75.3 371.75 75.3 372 75.3 372.25 75.3 372.5 75.3 372.75 75.3 373 75.3 373.25 75.3 373.5 75.3 373.75 75.3 374 75.3 374.25 75.3 374.5 75.3 374.75 75.3 375 75.3 375.25 75.3 375.5 75.3 375.75 75.3 376 75.3 376.25 75.3 376.5 75.3 376.75 75.3 377 75.3 377.25 75.3 377.5 75.3 377.75 75.3 378 75.3 378.25 75.3 378.5 75.3 378.75 75.3 379 75.3 379.25 75.3 379.5 75.3 379.75 75.3 380 75.3 380.25 75.3 380.5 75.3 380.75 75.3 381 75.3 381.25 75.3 381.5 75.3 381.75 75.3 382 75.3 382.25 75.3 382.5 75.3 382.75 75.3 383 75.3 383.25 75.3 383.5 75.3 383.75 75.3 384 75.3 384.25 75.3 384.5 75.3 384.75 75.3 385 75.3 385.25 75.3 385.5 75.3 385.75 75.3 386 75.3 386.25 75.3 386.5 75.3 386.75 75.3 387 75.3 387.25 75.3 387.5 75.3 L387.5 75.3 Z" fill="#050505"/>
<line x1="331.5" y1="89.35" x2="388.0" y2="89.35" stroke="#8a8a8a" stroke-width="0.9"/>
<path d="M332 89.35 L332 89.35 332.25 89.35 332.5 89.35 332.75 89.35 333 89.35 333.25 89.35 333.5 89.35 333.75 89.35 334 89.35 334.25 89.35 334.5 89.35 334.75 89.35 335 89.35 335.25 89.35 335.5 89.35 335.75 89.35 336 89.35 336.25 89.35 336.5 89.35 336.75 89.35 337 89.35 337.25 89.35 337.5 89.35 337.75 89.35 338 89.35 338.25 89.35 338.5 89.35 338.75 89.35 339 89.35 339.25 89.35 339.5 89.35 339.75 89.35 340 89.35 340.25 89.35 340.5 89.35 340.75 89.35 341 89.34 341.25 89.34 341.5 89.33 341.75 89.31 342 89.28 342.25 89.23 342.5 89.16 342.75 89.04 343 88.87 343.25 88.62 343.5 88.26 343.75 87.75 344 87.07 344.25 86.17 344.5 85.02 344.75 83.57 345 81.8 345.25 79.7 345.5 77.25 345.75 74.49 346 71.44 346.25 68.18 346.5 64.76 346.75 61.29 347 57.87 347.25 54.6 347.5 51.59 347.75 48.91 348 46.64 348.25 44.81 348.5 43.46 348.75 42.57 349 42.1 349.25 41.95 349.5 41.97 349.75 42.12 350 42.45 350.25 42.98 350.5 43.73 350.75 44.72 351 45.96 351.25 47.43 351.5 49.12 351.75 51.02 352 53.1 352.25 55.33 352.5 57.68 352.75 60.11 353 62.58 353.25 65.06 353.5 67.5 353.75 69.88 354 72.16 354.25 74.32 354.5 76.34 354.75 78.2 355 79.89 355.25 81.41 355.5 82.75 355.75 83.93 356 84.94 356.25 85.81 356.5 86.53 356.75 87.14 357 87.63 357.25 88.03 357.5 88.35 357.75 88.6 358 88.79 358.25 88.94 358.5 89.06 358.75 89.14 359 89.2 359.25 89.25 359.5 89.28 359.75 89.3 360 89.32 360.25 89.33 360.5 89.34 360.75 89.34 361 89.34 361.25 89.35 361.5 89.35 361.75 89.35 362 89.35 362.25 89.35 362.5 89.35 362.75 89.35 363 89.35 363.25 89.35 363.5 89.35 363.75 89.35 364 89.35 364.25 89.35 364.5 89.35 364.75 89.35 365 89.35 365.25 89.35 365.5 89.35 365.75 89.35 366 89.35 366.25 89.35 366.5 89.35 366.75 89.35 367 89.35 367.25 89.35 367.5 89.35 367.75 89.35 368 89.35 368.25 89.35 368.5 89.35 368.75 89.35 369 89.35 369.25 89.35 369.5 89.35 369.75 89.35 370 89.35 370.25 89.35 370.5 89.35 370.75 89.35 371 89.35 371.25 89.35 371.5 89.35 371.75 89.35 372 89.35 372.25 89.35 372.5 89.35 372.75 89.35 373 89.35 373.25 89.35 373.5 89.35 373.75 89.35 374 89.35 374.25 89.35 374.5 89.35 374.75 89.35 375 89.35 375.25 89.35 375.5 89.35 375.75 89.35 376 89.35 376.25 89.35 376.5 89.35 376.75 89.35 377 89.35 377.25 89.35 377.5 89.35 377.75 89.35 378 89.35 378.25 89.35 378.5 89.35 378.75 89.35 379 89.35 379.25 89.35 379.5 89.35 379.75 89.35 380 89.35 380.25 89.35 380.5 89.35 380.75 89.35 381 89.35 381.25 89.35 381.5 89.35 381.75 89.35 382 89.35 382.25 89.35 382.5 89.35 382.75 89.35 383 89.35 383.25 89.35 383.5 89.35 383.75 89.35 384 89.35 384.25 89.35 384.5 89.35 384.75 89.35 385 89.35 385.25 89.35 385.5 89.35 385.75 89.35 386 89.35 386.25 89.35 386.5 89.35 386.75 89.35 387 89.35 387.25 89.35 387.5 89.35 L387.5 89.35 Z" fill="#625c14"/>
<path d="M342 89.28 L342.25 89.23 L342.5 89.16 L342.75 89.04 L343 88.87 L343.25 88.62 L343.5 88.26 L343.75 87.75 L344 87.07 L344.25 86.17 L344.5 85.02 L344.75 83.57 L345 81.8 L345.25 79.7 L345.5 77.25 L345.75 74.49 L346 71.44 L346.25 68.18 L346.5 64.76 L346.75 61.29 L347 57.87 L347.25 54.6 L347.5 51.59 L347.75 48.91 L348 46.64 L348.25 44.81 L348.5 43.46 L348.75 42.57 L349 42.1 L349.25 41.95 L349.5 41.97 L349.75 42.12 L350 42.45 L350.25 42.98 L350.5 43.73 L350.75 44.72 L351 45.96 L351.25 47.43 L351.5 49.12 L351.75 51.02 L352 53.1 L352.25 55.33 L352.5 57.68 L352.75 60.11 L353 62.58 L353.25 65.06 L353.5 67.5 L353.75 69.88 L354 72.16 L354.25 74.32 L354.5 76.34 L354.75 78.2 L355 79.89 L355.25 81.41 L355.5 82.75 L355.75 83.93 L356 84.94 L356.25 85.81 L356.5 86.53 L356.75 87.14 L357 87.63 L357.25 88.03 L357.5 88.35 L357.75 88.6 L358 88.79 L358.25 88.94 L358.5 89.06 L358.75 89.14 L359 89.2 L359.25 89.25 L359.5 89.28 L359.75 89.3" fill="none" stroke="#2a2808" stroke-width="0.6"/>
<line x1="331.5" y1="103.0" x2="388.0" y2="103.0" stroke="#8a8a8a" stroke-width="0.9"/>
<path d="M332 103 L332 102.96 332.25 102.95 332.5 102.95 332.75 102.93 333 102.92 333.25 102.91 333.5 102.89 333.75 102.87 334 102.85 334.25 102.83 334.5 102.8 334.75 102.77 335 102.74 335.25 102.7 335.5 102.66 335.75 102.61 336 102.55 336.25 102.5 336.5 102.43 336.75 102.36 337 102.29 337.25 102.2 337.5 102.11 337.75 102.01 338 101.9 338.25 101.77 338.5 101.62 338.75 101.42 339 101.18 339.25 100.85 339.5 100.4 339.75 99.8 340 98.99 340.25 97.92 340.5 96.53 340.75 94.79 341 92.67 341.25 90.17 341.5 87.33 341.75 84.18 342 80.84 342.25 77.4 342.5 73.99 342.75 70.75 343 67.78 343.25 65.19 343.5 63.05 343.75 61.39 344 60.21 344.25 59.47 344.5 59.1 344.75 59 345 59.04 345.25 59.28 345.5 59.86 345.75 60.86 346 62.33 346.25 64.28 346.5 66.7 346.75 69.52 347 72.67 347.25 76.02 347.5 79.46 347.75 82.86 348 86.1 348.25 89.07 348.5 91.72 348.75 93.99 349 95.88 349.25 97.4 349.5 98.59 349.75 99.5 350 100.18 350.25 100.69 350.5 101.06 350.75 101.33 351 101.54 351.25 101.71 351.5 101.85 351.75 101.97 352 102.07 352.25 102.17 352.5 102.25 352.75 102.33 353 102.41 353.25 102.47 353.5 102.53 353.75 102.59 354 102.64 354.25 102.68 354.5 102.72 354.75 102.76 355 102.79 355.25 102.82 355.5 102.84 355.75 102.87 356 102.89 356.25 102.9 356.5 102.92 356.75 102.93 357 102.94 357.25 102.95 357.5 102.96 357.75 102.97 358 102.97 358.25 102.98 358.5 102.98 358.75 102.98 359 102.99 359.25 102.99 359.5 102.99 359.75 102.99 360 102.99 360.25 103 360.5 103 360.75 103 361 103 361.25 103 361.5 103 361.75 103 362 103 362.25 103 362.5 103 362.75 103 363 103 363.25 103 363.5 103 363.75 103 364 103 364.25 103 364.5 103 364.75 103 365 103 365.25 103 365.5 103 365.75 103 366 103 366.25 103 366.5 103 366.75 103 367 103 367.25 103 367.5 103 367.75 103 368 103 368.25 103 368.5 103 368.75 103 369 103 369.25 103 369.5 103 369.75 103 370 103 370.25 103 370.5 103 370.75 103 371 103 371.25 103 371.5 103 371.75 103 372 103 372.25 103 372.5 103 372.75 103 373 103 373.25 103 373.5 103 373.75 103 374 103 374.25 103 374.5 103 374.75 103 375 103 375.25 103 375.5 103 375.75 103 376 103 376.25 103 376.5 103 376.75 103 377 103 377.25 103 377.5 103 377.75 103 378 103 378.25 103 378.5 103 378.75 103 379 103 379.25 103 379.5 103 379.75 103 380 103 380.25 103 380.5 103 380.75 103 381 103 381.25 103 381.5 103 381.75 103 382 103 382.25 103 382.5 103 382.75 103 383 103 383.25 103 383.5 103 383.75 103 384 103 384.25 103 384.5 103 384.75 103 385 103 385.25 103 385.5 103 385.75 103 386 103 386.25 103 386.5 103 386.75 103 387 103 387.25 103 387.5 103 L387.5 103 Z" fill="#0a0a34"/>
<line x1="331.5" y1="116.9" x2="388.0" y2="116.9" stroke="#8a8a8a" stroke-width="0.9"/>
<path d="M332 116.9 L332 116.9 332.25 116.9 332.5 116.9 332.75 116.9 333 116.9 333.25 116.9 333.5 116.89 333.75 116.89 334 116.89 334.25 116.88 334.5 116.88 334.75 116.87 335 116.86 335.25 116.85 335.5 116.84 335.75 116.82 336 116.79 336.25 116.76 336.5 116.72 336.75 116.67 337 116.61 337.25 116.54 337.5 116.46 337.75 116.35 338 116.23 338.25 116.09 338.5 115.93 338.75 115.75 339 115.55 339.25 115.32 339.5 115.08 339.75 114.82 340 114.54 340.25 114.25 340.5 113.96 340.75 113.66 341 113.37 341.25 113.08 341.5 112.81 341.75 112.56 342 112.34 342.25 112.15 342.5 111.99 342.75 111.88 343 111.8 343.25 111.77 343.5 111.78 343.75 111.83 344 111.91 344.25 112.02 344.5 112.16 344.75 112.32 345 112.5 345.25 112.69 345.5 112.87 345.75 113.06 346 113.24 346.25 113.4 346.5 113.56 346.75 113.69 347 113.81 347.25 113.9 347.5 113.98 347.75 114.03 348 114.07 348.25 114.09 348.5 114.1 348.75 114.09 349 114.07 349.25 114.04 349.5 114.01 349.75 113.96 350 113.92 350.25 113.87 350.5 113.82 350.75 113.77 351 113.73 351.25 113.68 351.5 113.64 351.75 113.6 352 113.56 352.25 113.52 352.5 113.48 352.75 113.45 353 113.42 353.25 113.38 353.5 113.35 353.75 113.32 354 113.28 354.25 113.24 354.5 113.2 354.75 113.15 355 113.09 355.25 113.03 355.5 112.96 355.75 112.87 356 112.78 356.25 112.67 356.5 112.54 356.75 112.4 357 112.24 357.25 112.06 357.5 111.86 357.75 111.63 358 111.39 358.25 111.11 358.5 110.81 358.75 110.49 359 110.13 359.25 109.74 359.5 109.32 359.75 108.87 360 108.39 360.25 107.87 360.5 107.31 360.75 106.73 361 106.1 361.25 105.45 361.5 104.75 361.75 104.02 362 103.26 362.25 102.46 362.5 101.63 362.75 100.76 363 99.86 363.25 98.93 363.5 97.98 363.75 96.99 364 95.98 364.25 94.94 364.5 93.89 364.75 92.81 365 91.72 365.25 90.61 365.5 89.5 365.75 88.37 366 87.24 366.25 86.11 366.5 84.98 366.75 83.86 367 82.75 367.25 81.65 367.5 80.57 367.75 79.51 368 78.48 368.25 77.48 368.5 76.51 368.75 75.57 369 74.68 369.25 73.83 369.5 73.02 369.75 72.27 370 71.57 370.25 70.93 370.5 70.35 370.75 69.83 371 69.38 371.25 68.99 371.5 68.67 371.75 68.42 372 68.24 372.25 68.14 372.5 68.1 372.75 68.18 373 68.43 373.25 68.84 373.5 69.4 373.75 70.12 374 70.98 374.25 71.98 374.5 73.1 374.75 74.34 375 75.69 375.25 77.13 375.5 78.64 375.75 80.22 376 81.86 376.25 83.54 376.5 85.24 376.75 86.96 377 88.68 377.25 90.39 377.5 92.08 377.75 93.74 378 95.36 378.25 96.94 378.5 98.47 378.75 99.93 379 101.33 379.25 102.67 379.5 103.93 379.75 105.12 380 106.24 380.25 107.28 380.5 108.25 380.75 109.15 381 109.98 381.25 110.74 381.5 111.44 381.75 112.07 382 112.65 382.25 113.17 382.5 113.63 382.75 114.05 383 114.42 383.25 114.76 383.5 115.05 383.75 115.31 384 115.53 384.25 115.73 384.5 115.91 384.75 116.06 385 116.19 385.25 116.3 385.5 116.39 385.75 116.48 386 116.55 386.25 116.61 386.5 116.66 386.75 116.7 387 116.73 387.25 116.76 387.5 116.79 L387.5 116.9 Z" fill="#fffbd2"/>
<path d="M335.5 116.84 L335.75 116.82 L336 116.79 L336.25 116.76 L336.5 116.72 L336.75 116.67 L337 116.61 L337.25 116.54 L337.5 116.46 L337.75 116.35 L338 116.23 L338.25 116.09 L338.5 115.93 L338.75 115.75 L339 115.55 L339.25 115.32 L339.5 115.08 L339.75 114.82 L340 114.54 L340.25 114.25 L340.5 113.96 L340.75 113.66 L341 113.37 L341.25 113.08 L341.5 112.81 L341.75 112.56 L342 112.34 L342.25 112.15 L342.5 111.99 L342.75 111.88 L343 111.8 L343.25 111.77 L343.5 111.78 L343.75 111.83 L344 111.91 L344.25 112.02 L344.5 112.16 L344.75 112.32 L345 112.5 L345.25 112.69 L345.5 112.87 L345.75 113.06 L346 113.24 L346.25 113.4 L346.5 113.56 L346.75 113.69 L347 113.81 L347.25 113.9 L347.5 113.98 L347.75 114.03 L348 114.07 L348.25 114.09 L348.5 114.1 L348.75 114.09 L349 114.07 L349.25 114.04 L349.5 114.01 L349.75 113.96 L350 113.92 L350.25 113.87 L350.5 113.82 L350.75 113.77 L351 113.73 L351.25 113.68 L351.5 113.64 L351.75 113.6 L352 113.56 L352.25 113.52 L352.5 113.48 L352.75 113.45 L353 113.42 L353.25 113.38 L353.5 113.35 L353.75 113.32 L354 113.28 L354.25 113.24 L354.5 113.2 L354.75 113.15 L355 113.09 L355.25 113.03 L355.5 112.96 L355.75 112.87 L356 112.78 L356.25 112.67 L356.5 112.54 L356.75 112.4 L357 112.24 L357.25 112.06 L357.5 111.86 L357.75 111.63 L358 111.39 L358.25 111.11 L358.5 110.81 L358.75 110.49 L359 110.13 L359.25 109.74 L359.5 109.32 L359.75 108.87 L360 108.39 L360.25 107.87 L360.5 107.31 L360.75 106.73 L361 106.1 L361.25 105.45 L361.5 104.75 L361.75 104.02 L362 103.26 L362.25 102.46 L362.5 101.63 L362.75 100.76 L363 99.86 L363.25 98.93 L363.5 97.98 L363.75 96.99 L364 95.98 L364.25 94.94 L364.5 93.89 L364.75 92.81 L365 91.72 L365.25 90.61 L365.5 89.5 L365.75 88.37 L366 87.24 L366.25 86.11 L366.5 84.98 L366.75 83.86 L367 82.75 L367.25 81.65 L367.5 80.57 L367.75 79.51 L368 78.48 L368.25 77.48 L368.5 76.51 L368.75 75.57 L369 74.68 L369.25 73.83 L369.5 73.02 L369.75 72.27 L370 71.57 L370.25 70.93 L370.5 70.35 L370.75 69.83 L371 69.38 L371.25 68.99 L371.5 68.67 L371.75 68.42 L372 68.24 L372.25 68.14 L372.5 68.1 L372.75 68.18 L373 68.43 L373.25 68.84 L373.5 69.4 L373.75 70.12 L374 70.98 L374.25 71.98 L374.5 73.1 L374.75 74.34 L375 75.69 L375.25 77.13 L375.5 78.64 L375.75 80.22 L376 81.86 L376.25 83.54 L376.5 85.24 L376.75 86.96 L377 88.68 L377.25 90.39 L377.5 92.08 L377.75 93.74 L378 95.36 L378.25 96.94 L378.5 98.47 L378.75 99.93 L379 101.33 L379.25 102.67 L379.5 103.93 L379.75 105.12 L380 106.24 L380.25 107.28 L380.5 108.25 L380.75 109.15 L381 109.98 L381.25 110.74 L381.5 111.44 L381.75 112.07 L382 112.65 L382.25 113.17 L382.5 113.63 L382.75 114.05 L383 114.42 L383.25 114.76 L383.5 115.05 L383.75 115.31 L384 115.53 L384.25 115.73 L384.5 115.91 L384.75 116.06 L385 116.19 L385.25 116.3 L385.5 116.39 L385.75 116.48 L386 116.55 L386.25 116.61 L386.5 116.66 L386.75 116.7 L387 116.73 L387.25 116.76 L387.5 116.79" fill="none" stroke="#6e6a48" stroke-width="0.6"/>
<rect x="331.5" y="5.5" width="56.5" height="111.4" fill="none" stroke="#8c8c8c" stroke-width="1"/>
<line x1="331.5" y1="117.4" x2="388.0" y2="117.4" stroke="#222" stroke-width="1"/>
<rect x="331.5" y="117.4" width="8.5" height="2" fill="#111"/>
<line x1="341.3" y1="117.4" x2="341.3" y2="119.9" stroke="#333" stroke-width="0.6"/>
<line x1="353.2" y1="117.4" x2="353.2" y2="119.9" stroke="#333" stroke-width="0.6"/>
<line x1="369.3" y1="117.4" x2="369.3" y2="119.9" stroke="#333" stroke-width="0.6"/>
<line x1="385.4" y1="117.4" x2="385.4" y2="119.9" stroke="#333" stroke-width="0.6"/>
<line x1="358.05" y1="117.4" x2="358.05" y2="118.80000000000001" stroke="#777" stroke-width="0.4"/>
<line x1="360.88" y1="117.4" x2="360.88" y2="118.80000000000001" stroke="#777" stroke-width="0.4"/>
<line x1="362.89" y1="117.4" x2="362.89" y2="118.80000000000001" stroke="#777" stroke-width="0.4"/>
<line x1="364.45" y1="117.4" x2="364.45" y2="118.80000000000001" stroke="#777" stroke-width="0.4"/>
<line x1="365.73" y1="117.4" x2="365.73" y2="118.80000000000001" stroke="#777" stroke-width="0.4"/>
<line x1="366.81" y1="117.4" x2="366.81" y2="118.80000000000001" stroke="#777" stroke-width="0.4"/>
<line x1="367.74" y1="117.4" x2="367.74" y2="118.80000000000001" stroke="#777" stroke-width="0.4"/>
<line x1="368.56" y1="117.4" x2="368.56" y2="118.80000000000001" stroke="#777" stroke-width="0.4"/>
<line x1="374.15" y1="117.4" x2="374.15" y2="118.80000000000001" stroke="#777" stroke-width="0.4"/>
<line x1="376.98" y1="117.4" x2="376.98" y2="118.80000000000001" stroke="#777" stroke-width="0.4"/>
<line x1="378.99" y1="117.4" x2="378.99" y2="118.80000000000001" stroke="#777" stroke-width="0.4"/>
<line x1="380.55" y1="117.4" x2="380.55" y2="118.80000000000001" stroke="#777" stroke-width="0.4"/>
<line x1="381.83" y1="117.4" x2="381.83" y2="118.80000000000001" stroke="#777" stroke-width="0.4"/>
<line x1="382.91" y1="117.4" x2="382.91" y2="118.80000000000001" stroke="#777" stroke-width="0.4"/>
<line x1="383.84" y1="117.4" x2="383.84" y2="118.80000000000001" stroke="#777" stroke-width="0.4"/>
<line x1="384.66" y1="117.4" x2="384.66" y2="118.80000000000001" stroke="#777" stroke-width="0.4"/>
<text x="341.3" y="126.6" font-size="4.5" text-anchor="middle" fill="#555">0</text>
<text x="353.2" y="126.6" font-size="4.5" text-anchor="middle" fill="#555">10²</text>
<text x="369.3" y="126.6" font-size="4.5" text-anchor="middle" fill="#555">10³</text>
<text x="385.4" y="126.6" font-size="4.5" text-anchor="middle" fill="#555">10⁴</text>
</g>
<text x="168.5" y="143" font-size="8.6" text-anchor="middle" fill="#222">pJAK2</text>
<text x="232" y="143" font-size="8.6" text-anchor="middle" fill="#222">pSTAT5</text>
<text x="296" y="143" font-size="8.6" text-anchor="middle" fill="#222">pS6</text>
<text x="359.5" y="143" font-size="8.6" text-anchor="middle" fill="#222">pERK</text>
<line x1="392.8" y1="78.8" x2="416" y2="78.8" stroke="#111" stroke-width="1.3"/>
<path d="M414 76.4 L419.5 78.8 L414 81.2 Z" fill="#111"/>
<rect x="424.6" y="44.6" width="54.2" height="67.5" fill="#000"/>
<rect x="424.6" y="71.6" width="13.95" height="13.9" fill="#b8b004"/>
<rect x="438.15" y="71.6" width="13.95" height="13.9" fill="#ece404"/>
<rect x="451.7" y="71.6" width="13.95" height="13.9" fill="#fffbdc"/>
<rect x="465.25" y="71.6" width="13.95" height="13.9" fill="#68620e"/>
<rect x="424.6" y="85.1" width="13.95" height="13.9" fill="#03031e"/>
<rect x="438.15" y="85.1" width="13.95" height="13.9" fill="#0a0a84"/>
<rect x="451.7" y="85.1" width="13.95" height="13.9" fill="#0a0a84"/>
<rect x="465.25" y="85.1" width="13.95" height="13.9" fill="#05054e"/>
<rect x="424.6" y="98.6" width="13.95" height="13.9" fill="#fffbd0"/>
<rect x="438.15" y="98.6" width="13.95" height="13.9" fill="#fffbd0"/>
<rect x="451.7" y="98.6" width="13.95" height="13.9" fill="#fffbd0"/>
<rect x="465.25" y="98.6" width="13.95" height="13.9" fill="#fffbd0"/>
<line x1="424.6" y1="71.6" x2="424.6" y2="112.1" stroke="#3a3a2a" stroke-width="0.8"/>
<line x1="438.15" y1="71.6" x2="438.15" y2="112.1" stroke="#3a3a2a" stroke-width="0.8"/>
<line x1="451.7" y1="71.6" x2="451.7" y2="112.1" stroke="#3a3a2a" stroke-width="0.8"/>
<line x1="465.25" y1="71.6" x2="465.25" y2="112.1" stroke="#3a3a2a" stroke-width="0.8"/>
<line x1="478.8" y1="71.6" x2="478.8" y2="112.1" stroke="#3a3a2a" stroke-width="0.8"/>
<line x1="424.6" y1="71.6" x2="478.8" y2="71.6" stroke="#3a3a2a" stroke-width="0.8"/>
<line x1="424.6" y1="85.1" x2="478.8" y2="85.1" stroke="#3a3a2a" stroke-width="0.8"/>
<line x1="424.6" y1="98.6" x2="478.8" y2="98.6" stroke="#3a3a2a" stroke-width="0.8"/>
<line x1="424.6" y1="112.1" x2="478.8" y2="112.1" stroke="#3a3a2a" stroke-width="0.8"/>
<rect x="424.6" y="44.6" width="54.2" height="67.5" fill="none" stroke="#222" stroke-width="0.8"/>
<defs><linearGradient id="cb" x1="0" x2="1" y1="0" y2="0"><stop offset="0" stop-color="#c4c4ff"/><stop offset="0.25" stop-color="#1010ff"/><stop offset="0.5" stop-color="#000"/><stop offset="0.75" stop-color="#ffff10"/><stop offset="1" stop-color="#ffffc8"/></linearGradient></defs>
<rect x="424.8" y="121.3" width="55.8" height="6.2" fill="url(#cb)" stroke="#999" stroke-width="0.4"/>
<text x="425.2" y="133.5" font-size="3.9" text-anchor="middle" fill="#555">-2.50</text>
<text x="439" y="133.5" font-size="3.9" text-anchor="middle" fill="#555">-1.25</text>
<text x="452.8" y="133.5" font-size="3.9" text-anchor="middle" fill="#555">0.00</text>
<text x="466.6" y="133.5" font-size="3.9" text-anchor="middle" fill="#555">1.25</text>
<text x="480.4" y="133.5" font-size="3.9" text-anchor="middle" fill="#555">2.50</text>
<text x="4.6" y="167.7" font-size="17.5" font-weight="bold">B</text>
<line x1="142.3" y1="161.2" x2="142.3" y2="253.8" stroke="#555" stroke-width="0.9"/>
<line x1="142.3" y1="253.8" x2="273.8" y2="253.8" stroke="#555" stroke-width="0.9"/>
<line x1="140.8" y1="253.8" x2="142.3" y2="253.8" stroke="#555" stroke-width="0.7"/>
<text x="141.1" y="255.6" font-size="5.2" text-anchor="end" fill="#555">0</text>
<line x1="140.8" y1="235.28" x2="142.3" y2="235.28" stroke="#555" stroke-width="0.7"/>
<text x="141.1" y="237.08" font-size="5.2" text-anchor="end" fill="#555">1000</text>
<line x1="140.8" y1="216.76" x2="142.3" y2="216.76" stroke="#555" stroke-width="0.7"/>
<text x="141.1" y="218.56" font-size="5.2" text-anchor="end" fill="#555">2000</text>
<line x1="140.8" y1="198.24" x2="142.3" y2="198.24" stroke="#555" stroke-width="0.7"/>
<text x="141.1" y="200.04" font-size="5.2" text-anchor="end" fill="#555">3000</text>
<line x1="140.8" y1="179.72" x2="142.3" y2="179.72" stroke="#555" stroke-width="0.7"/>
<text x="141.1" y="181.52" font-size="5.2" text-anchor="end" fill="#555">4000</text>
<line x1="140.8" y1="161.2" x2="142.3" y2="161.2" stroke="#555" stroke-width="0.7"/>
<text x="141.1" y="163" font-size="5.2" text-anchor="end" fill="#555">5000</text>
<line x1="164.2" y1="228.5" x2="164.2" y2="242.3" stroke="#555" stroke-width="0.9"/>
<line x1="164.2" y1="249.5" x2="164.2" y2="252.3" stroke="#555" stroke-width="0.9"/>
<line x1="160.4" y1="228.5" x2="168" y2="228.5" stroke="#555" stroke-width="0.9"/>
<line x1="160.4" y1="252.3" x2="168" y2="252.3" stroke="#555" stroke-width="0.9"/>
<rect x="149.85" y="242.75" width="28.7" height="6.3" fill="#ffffff" stroke="#555" stroke-width="0.9"/>
<line x1="149.4" y1="248.2" x2="179" y2="248.2" stroke="#555" stroke-width="1.2"/>
<line x1="208.1" y1="162.5" x2="208.1" y2="224.6" stroke="#555" stroke-width="0.9"/>
<line x1="208.1" y1="245.6" x2="208.1" y2="251.3" stroke="#555" stroke-width="0.9"/>
<line x1="204.3" y1="162.5" x2="211.9" y2="162.5" stroke="#555" stroke-width="0.9"/>
<line x1="204.3" y1="251.3" x2="211.9" y2="251.3" stroke="#555" stroke-width="0.9"/>
<rect x="193.95" y="225.05" width="28.3" height="20.1" fill="#bababa" stroke="#555" stroke-width="0.9"/>
<line x1="193.5" y1="239.4" x2="222.7" y2="239.4" stroke="#555" stroke-width="1.2"/>
<circle cx="205" cy="158.9" r="1.05" fill="#333"/>
<circle cx="208.1" cy="158.9" r="1.05" fill="#333"/>
<circle cx="211.2" cy="158.9" r="1.05" fill="#333"/>
<line x1="251.9" y1="208.7" x2="251.9" y2="221.5" stroke="#555" stroke-width="0.9"/>
<line x1="251.9" y1="245.2" x2="251.9" y2="250" stroke="#555" stroke-width="0.9"/>
<line x1="248.1" y1="208.7" x2="255.7" y2="208.7" stroke="#555" stroke-width="0.9"/>
<line x1="248.1" y1="250" x2="255.7" y2="250" stroke="#555" stroke-width="0.9"/>
<rect x="237.75" y="221.95" width="28.3" height="22.8" fill="#363636" stroke="#555" stroke-width="0.9"/>
<line x1="237.3" y1="234.2" x2="266.5" y2="234.2" stroke="#0a0a0a" stroke-width="1.2"/>
<circle cx="250.35" cy="205.1" r="1.05" fill="#333"/>
<circle cx="253.45" cy="205.1" r="1.05" fill="#333"/>
<text transform="translate(110.9 207.9) rotate(-90)" x="0" y="0" font-size="15.5" text-anchor="middle" fill="#111" style="font-kerning:none">pJAK2</text>
<text x="164.2" y="265.1" font-size="6.9" text-anchor="middle" fill="#1a1a1a">CRLF2wt</text>
<text x="164.2" y="272.8" font-size="6.9" text-anchor="middle" fill="#1a1a1a">JAKwt</text>
<text x="208.1" y="265.1" font-size="6.9" text-anchor="middle" fill="#1a1a1a">CRLF2r</text>
<text x="208.1" y="272.8" font-size="6.9" text-anchor="middle" fill="#1a1a1a">JAKwt</text>
<text x="251.9" y="265.1" font-size="6.9" text-anchor="middle" fill="#1a1a1a">CRLF2r</text>
<text x="251.9" y="272.8" font-size="6.9" text-anchor="middle" fill="#1a1a1a">JAKmut</text>
<line x1="358.1" y1="160" x2="358.1" y2="253.6" stroke="#555" stroke-width="0.9"/>
<line x1="358.1" y1="253.6" x2="490.5" y2="253.6" stroke="#555" stroke-width="0.9"/>
<line x1="356.6" y1="253.6" x2="358.1" y2="253.6" stroke="#555" stroke-width="0.7"/>
<text x="356.9" y="255.4" font-size="5.2" text-anchor="end" fill="#555">0</text>
<line x1="356.6" y1="234.88" x2="358.1" y2="234.88" stroke="#555" stroke-width="0.7"/>
<text x="356.9" y="236.68" font-size="5.2" text-anchor="end" fill="#555">500</text>
<line x1="356.6" y1="216.16" x2="358.1" y2="216.16" stroke="#555" stroke-width="0.7"/>
<text x="356.9" y="217.96" font-size="5.2" text-anchor="end" fill="#555">1000</text>
<line x1="356.6" y1="197.44" x2="358.1" y2="197.44" stroke="#555" stroke-width="0.7"/>
<text x="356.9" y="199.24" font-size="5.2" text-anchor="end" fill="#555">1500</text>
<line x1="356.6" y1="178.72" x2="358.1" y2="178.72" stroke="#555" stroke-width="0.7"/>
<text x="356.9" y="180.52" font-size="5.2" text-anchor="end" fill="#555">2000</text>
<line x1="356.6" y1="160" x2="358.1" y2="160" stroke="#555" stroke-width="0.7"/>
<text x="356.9" y="161.8" font-size="5.2" text-anchor="end" fill="#555">2500</text>
<line x1="380.5" y1="238.8" x2="380.5" y2="240" stroke="#555" stroke-width="0.9"/>
<line x1="380.5" y1="247.7" x2="380.5" y2="249.4" stroke="#555" stroke-width="0.9"/>
<line x1="376.7" y1="238.8" x2="384.3" y2="238.8" stroke="#555" stroke-width="0.9"/>
<line x1="376.7" y1="249.4" x2="384.3" y2="249.4" stroke="#555" stroke-width="0.9"/>
<rect x="365.85" y="240.45" width="29.3" height="6.8" fill="#ffffff" stroke="#555" stroke-width="0.9"/>
<line x1="365.4" y1="244.8" x2="395.6" y2="244.8" stroke="#555" stroke-width="1.2"/>
<line x1="424.9" y1="174.3" x2="424.9" y2="233.6" stroke="#555" stroke-width="0.9"/>
<line x1="424.9" y1="245.6" x2="424.9" y2="250.5" stroke="#555" stroke-width="0.9"/>
<line x1="421.1" y1="174.3" x2="428.7" y2="174.3" stroke="#555" stroke-width="0.9"/>
<line x1="421.1" y1="250.5" x2="428.7" y2="250.5" stroke="#555" stroke-width="0.9"/>
<rect x="410.55" y="234.05" width="28.7" height="11.1" fill="#bababa" stroke="#555" stroke-width="0.9"/>
<line x1="410.1" y1="242.4" x2="439.7" y2="242.4" stroke="#555" stroke-width="1.2"/>
<circle cx="424.9" cy="170.7" r="1.05" fill="#333"/>
<line x1="468.5" y1="195.5" x2="468.5" y2="227.2" stroke="#555" stroke-width="0.9"/>
<line x1="468.5" y1="244.1" x2="468.5" y2="247.7" stroke="#555" stroke-width="0.9"/>
<line x1="464.7" y1="195.5" x2="472.3" y2="195.5" stroke="#555" stroke-width="0.9"/>
<line x1="464.7" y1="247.7" x2="472.3" y2="247.7" stroke="#555" stroke-width="0.9"/>
<rect x="454.35" y="227.65" width="28.3" height="16" fill="#363636" stroke="#555" stroke-width="0.9"/>
<line x1="453.9" y1="243" x2="483.1" y2="243" stroke="#0a0a0a" stroke-width="1.2"/>
<circle cx="468.5" cy="191.9" r="1.05" fill="#333"/>
<text transform="translate(329.1 206.3) rotate(-90)" x="0" y="0" font-size="15.7" text-anchor="middle" fill="#111" style="font-kerning:none">pSTAT5</text>
<text x="380.5" y="264.9" font-size="6.9" text-anchor="middle" fill="#1a1a1a">CRLF2wt</text>
<text x="380.5" y="272.6" font-size="6.9" text-anchor="middle" fill="#1a1a1a">JAKwt</text>
<text x="424.9" y="264.9" font-size="6.9" text-anchor="middle" fill="#1a1a1a">CRLF2r</text>
<text x="424.9" y="272.6" font-size="6.9" text-anchor="middle" fill="#1a1a1a">JAKwt</text>
<text x="468.5" y="264.9" font-size="6.9" text-anchor="middle" fill="#1a1a1a">CRLF2r</text>
<text x="468.5" y="272.6" font-size="6.9" text-anchor="middle" fill="#1a1a1a">JAKmut</text>
<line x1="142.6" y1="281.5" x2="142.6" y2="374.7" stroke="#555" stroke-width="0.9"/>
<line x1="142.6" y1="374.7" x2="274" y2="374.7" stroke="#555" stroke-width="0.9"/>
<line x1="141.1" y1="374.7" x2="142.6" y2="374.7" stroke="#555" stroke-width="0.7"/>
<text x="141.4" y="376.5" font-size="5.2" text-anchor="end" fill="#555">0</text>
<line x1="141.1" y1="356.06" x2="142.6" y2="356.06" stroke="#555" stroke-width="0.7"/>
<text x="141.4" y="357.86" font-size="5.2" text-anchor="end" fill="#555">1000</text>
<line x1="141.1" y1="337.42" x2="142.6" y2="337.42" stroke="#555" stroke-width="0.7"/>
<text x="141.4" y="339.22" font-size="5.2" text-anchor="end" fill="#555">2000</text>
<line x1="141.1" y1="318.78" x2="142.6" y2="318.78" stroke="#555" stroke-width="0.7"/>
<text x="141.4" y="320.58" font-size="5.2" text-anchor="end" fill="#555">3000</text>
<line x1="141.1" y1="300.14" x2="142.6" y2="300.14" stroke="#555" stroke-width="0.7"/>
<text x="141.4" y="301.94" font-size="5.2" text-anchor="end" fill="#555">4000</text>
<line x1="141.1" y1="281.5" x2="142.6" y2="281.5" stroke="#555" stroke-width="0.7"/>
<text x="141.4" y="283.3" font-size="5.2" text-anchor="end" fill="#555">5000</text>
<line x1="164.45" y1="358.9" x2="164.45" y2="366.2" stroke="#555" stroke-width="0.9"/>
<line x1="164.45" y1="369.7" x2="164.45" y2="371.5" stroke="#555" stroke-width="0.9"/>
<line x1="160.65" y1="358.9" x2="168.25" y2="358.9" stroke="#555" stroke-width="0.9"/>
<line x1="160.65" y1="371.5" x2="168.25" y2="371.5" stroke="#555" stroke-width="0.9"/>
<rect x="150.15" y="366.65" width="28.6" height="2.6" fill="#ffffff" stroke="#555" stroke-width="0.9"/>
<line x1="149.7" y1="368.5" x2="179.2" y2="368.5" stroke="#555" stroke-width="1.2"/>
<line x1="208.1" y1="300.2" x2="208.1" y2="350.8" stroke="#555" stroke-width="0.9"/>
<line x1="208.1" y1="367.5" x2="208.1" y2="371.3" stroke="#555" stroke-width="0.9"/>
<line x1="204.3" y1="300.2" x2="211.9" y2="300.2" stroke="#555" stroke-width="0.9"/>
<line x1="204.3" y1="371.3" x2="211.9" y2="371.3" stroke="#555" stroke-width="0.9"/>
<rect x="193.95" y="351.25" width="28.3" height="15.8" fill="#bababa" stroke="#555" stroke-width="0.9"/>
<line x1="193.5" y1="361.9" x2="222.7" y2="361.9" stroke="#555" stroke-width="1.2"/>
<circle cx="206.55" cy="296.6" r="1.05" fill="#333"/>
<circle cx="209.65" cy="296.6" r="1.05" fill="#333"/>
<line x1="251.9" y1="330" x2="251.9" y2="353.1" stroke="#555" stroke-width="0.9"/>
<line x1="251.9" y1="368.7" x2="251.9" y2="370.4" stroke="#555" stroke-width="0.9"/>
<line x1="248.1" y1="330" x2="255.7" y2="330" stroke="#555" stroke-width="0.9"/>
<line x1="248.1" y1="370.4" x2="255.7" y2="370.4" stroke="#555" stroke-width="0.9"/>
<rect x="237.75" y="353.55" width="28.3" height="14.7" fill="#363636" stroke="#555" stroke-width="0.9"/>
<line x1="237.3" y1="362.7" x2="266.5" y2="362.7" stroke="#0a0a0a" stroke-width="1.2"/>
<circle cx="251.9" cy="326.4" r="1.05" fill="#333"/>
<text transform="translate(110.9 328.7) rotate(-90)" x="0" y="0" font-size="15.5" text-anchor="middle" fill="#111" style="font-kerning:none">pS6</text>
<text x="164.2" y="386" font-size="6.9" text-anchor="middle" fill="#1a1a1a">CRLF2wt</text>
<text x="164.2" y="393.7" font-size="6.9" text-anchor="middle" fill="#1a1a1a">JAKwt</text>
<text x="208.1" y="386" font-size="6.9" text-anchor="middle" fill="#1a1a1a">CRLF2r</text>
<text x="208.1" y="393.7" font-size="6.9" text-anchor="middle" fill="#1a1a1a">JAKwt</text>
<text x="251.9" y="386" font-size="6.9" text-anchor="middle" fill="#1a1a1a">CRLF2r</text>
<text x="251.9" y="393.7" font-size="6.9" text-anchor="middle" fill="#1a1a1a">JAKmut</text>
<line x1="359.0" y1="281.5" x2="359.0" y2="374.8" stroke="#555" stroke-width="0.9"/>
<line x1="359.0" y1="374.8" x2="490.5" y2="374.8" stroke="#555" stroke-width="0.9"/>
<line x1="357.5" y1="374.8" x2="359.0" y2="374.8" stroke="#555" stroke-width="0.7"/>
<text x="357.8" y="376.6" font-size="5.2" text-anchor="end" fill="#555">0</text>
<line x1="357.5" y1="356.14" x2="359.0" y2="356.14" stroke="#555" stroke-width="0.7"/>
<text x="357.8" y="357.94" font-size="5.2" text-anchor="end" fill="#555">500</text>
<line x1="357.5" y1="337.48" x2="359.0" y2="337.48" stroke="#555" stroke-width="0.7"/>
<text x="357.8" y="339.28" font-size="5.2" text-anchor="end" fill="#555">1000</text>
<line x1="357.5" y1="318.82" x2="359.0" y2="318.82" stroke="#555" stroke-width="0.7"/>
<text x="357.8" y="320.62" font-size="5.2" text-anchor="end" fill="#555">1500</text>
<line x1="357.5" y1="300.16" x2="359.0" y2="300.16" stroke="#555" stroke-width="0.7"/>
<text x="357.8" y="301.96" font-size="5.2" text-anchor="end" fill="#555">2000</text>
<line x1="357.5" y1="281.5" x2="359.0" y2="281.5" stroke="#555" stroke-width="0.7"/>
<text x="357.8" y="283.3" font-size="5.2" text-anchor="end" fill="#555">2500</text>
<line x1="381.25" y1="361.7" x2="381.25" y2="364.8" stroke="#555" stroke-width="0.9"/>
<line x1="381.25" y1="369.6" x2="381.25" y2="371.5" stroke="#555" stroke-width="0.9"/>
<line x1="377.45" y1="361.7" x2="385.05" y2="361.7" stroke="#555" stroke-width="0.9"/>
<line x1="377.45" y1="371.5" x2="385.05" y2="371.5" stroke="#555" stroke-width="0.9"/>
<rect x="366.75" y="365.25" width="29" height="3.9" fill="#ffffff" stroke="#555" stroke-width="0.9"/>
<line x1="366.3" y1="367.7" x2="396.2" y2="367.7" stroke="#555" stroke-width="1.2"/>
<line x1="424.9" y1="356.4" x2="424.9" y2="366.4" stroke="#555" stroke-width="0.9"/>
<line x1="424.9" y1="370.6" x2="424.9" y2="373" stroke="#555" stroke-width="0.9"/>
<line x1="421.1" y1="356.4" x2="428.7" y2="356.4" stroke="#555" stroke-width="0.9"/>
<line x1="421.1" y1="373" x2="428.7" y2="373" stroke="#555" stroke-width="0.9"/>
<rect x="410.55" y="366.85" width="28.7" height="3.3" fill="#bababa" stroke="#555" stroke-width="0.9"/>
<line x1="410.1" y1="368.7" x2="439.7" y2="368.7" stroke="#555" stroke-width="1.2"/>
<line x1="468.7" y1="356.4" x2="468.7" y2="364.3" stroke="#555" stroke-width="0.9"/>
<line x1="468.7" y1="369.6" x2="468.7" y2="371.7" stroke="#555" stroke-width="0.9"/>
<line x1="464.9" y1="356.4" x2="472.5" y2="356.4" stroke="#555" stroke-width="0.9"/>
<line x1="464.9" y1="371.7" x2="472.5" y2="371.7" stroke="#555" stroke-width="0.9"/>
<rect x="454.35" y="364.75" width="28.7" height="4.4" fill="#363636" stroke="#555" stroke-width="0.9"/>
<line x1="453.9" y1="367.5" x2="483.5" y2="367.5" stroke="#0a0a0a" stroke-width="1.2"/>
<text transform="translate(329.1 328.6) rotate(-90)" x="0" y="0" font-size="15.5" text-anchor="middle" fill="#111" style="font-kerning:none">pERK</text>
<text x="380.5" y="386.1" font-size="6.9" text-anchor="middle" fill="#1a1a1a">CRLF2wt</text>
<text x="380.5" y="393.8" font-size="6.9" text-anchor="middle" fill="#1a1a1a">JAKwt</text>
<text x="424.9" y="386.1" font-size="6.9" text-anchor="middle" fill="#1a1a1a">CRLF2r</text>
<text x="424.9" y="393.8" font-size="6.9" text-anchor="middle" fill="#1a1a1a">JAKwt</text>
<text x="468.5" y="386.1" font-size="6.9" text-anchor="middle" fill="#1a1a1a">CRLF2r</text>
<text x="468.5" y="393.8" font-size="6.9" text-anchor="middle" fill="#1a1a1a">JAKmut</text>
<text x="4.1" y="435.7" font-size="17.5" font-weight="bold">C</text>
<text transform="translate(112.4 558.6) rotate(-90)" font-size="15.7" text-anchor="middle" fill="#111">Fold-Change in Phosphorylation</text>
<line x1="108.2" y1="418" x2="108.2" y2="441.4" stroke="#111" stroke-width="1.3"/>
<line x1="108.2" y1="676" x2="108.2" y2="700.2" stroke="#111" stroke-width="1.3"/>
<text x="48.3" y="486.2" font-size="13" text-anchor="middle" fill="#111">CRLF2<tspan font-size="9" dy="3.7">wt</tspan></text>
<text x="49.3" y="502.3" font-size="13" text-anchor="middle" fill="#111">JAK<tspan font-size="9" dy="3.7">wt</tspan></text>
<text x="43.6" y="561.4" font-size="13" text-anchor="middle" fill="#111">CRLF2<tspan font-size="9" dy="3.7">r</tspan></text>
<text x="45.2" y="577.6" font-size="13" text-anchor="middle" fill="#111">JAK<tspan font-size="9" dy="3.7">wt</tspan></text>
<text x="43.6" y="636.6" font-size="13" text-anchor="middle" fill="#111">CRLF2<tspan font-size="9" dy="3.7">r</tspan></text>
<text x="45.2" y="653.4" font-size="13" text-anchor="middle" fill="#111">JAK<tspan font-size="9" dy="3.7">mut</tspan></text>
<line x1="143.8" y1="456" x2="244.1" y2="456" stroke="#c4bec4" stroke-width="0.8"/>
<line x1="143.8" y1="416.61" x2="143.8" y2="495.39" stroke="#333" stroke-width="1"/>
<line x1="143.8" y1="495.39" x2="243.8" y2="495.39" stroke="#333" stroke-width="1"/>
<line x1="160.3" y1="495.39" x2="160.3" y2="496.99" stroke="#333" stroke-width="0.7"/>
<line x1="193.8" y1="495.39" x2="193.8" y2="496.99" stroke="#333" stroke-width="0.7"/>
<line x1="227.1" y1="495.39" x2="227.1" y2="496.99" stroke="#333" stroke-width="0.7"/>
<line x1="142" y1="495.39" x2="143.8" y2="495.39" stroke="#333" stroke-width="0.8"/>
<text x="142.2" y="498.09" font-size="7.6" text-anchor="end" fill="#222" stroke="#222" stroke-width="0.15">-3</text>
<line x1="142" y1="482.26" x2="143.8" y2="482.26" stroke="#333" stroke-width="0.8"/>
<text x="142.2" y="484.96" font-size="7.6" text-anchor="end" fill="#222" stroke="#222" stroke-width="0.15">-2</text>
<line x1="142" y1="469.13" x2="143.8" y2="469.13" stroke="#333" stroke-width="0.8"/>
<text x="142.2" y="471.83" font-size="7.6" text-anchor="end" fill="#222" stroke="#222" stroke-width="0.15">-1</text>
<line x1="142" y1="456" x2="143.8" y2="456" stroke="#333" stroke-width="0.8"/>
<text x="142.2" y="458.7" font-size="7.6" text-anchor="end" fill="#222" stroke="#222" stroke-width="0.15">0</text>
<line x1="142" y1="442.87" x2="143.8" y2="442.87" stroke="#333" stroke-width="0.8"/>
<text x="142.2" y="445.57" font-size="7.6" text-anchor="end" fill="#222" stroke="#222" stroke-width="0.15">1</text>
<line x1="142" y1="429.74" x2="143.8" y2="429.74" stroke="#333" stroke-width="0.8"/>
<text x="142.2" y="432.44" font-size="7.6" text-anchor="end" fill="#222" stroke="#222" stroke-width="0.15">2</text>
<line x1="142" y1="416.61" x2="143.8" y2="416.61" stroke="#333" stroke-width="0.8"/>
<text x="142.2" y="419.31" font-size="7.6" text-anchor="end" fill="#222" stroke="#222" stroke-width="0.15">3</text>
<line x1="160.3" y1="448.8" x2="160.3" y2="457.8" stroke="#444" stroke-width="0.8"/>
<line x1="157.3" y1="448.8" x2="163.3" y2="448.8" stroke="#444" stroke-width="0.8"/>
<line x1="157.3" y1="457.8" x2="163.3" y2="457.8" stroke="#444" stroke-width="0.8"/>
<rect x="149.1" y="454.3" width="22.4" height="2.9" fill="#b4b23c" stroke="#3a3a2a" stroke-width="0.8"/>
<line x1="148.7" y1="456" x2="171.9" y2="456" stroke="#3a3a2a" stroke-width="0.8"/>
<line x1="193.8" y1="450" x2="193.8" y2="458.5" stroke="#444" stroke-width="0.8"/>
<line x1="190.8" y1="450" x2="196.8" y2="450" stroke="#444" stroke-width="0.8"/>
<line x1="190.8" y1="458.5" x2="196.8" y2="458.5" stroke="#444" stroke-width="0.8"/>
<rect x="182.6" y="454.2" width="22.4" height="3" fill="#d828d8" stroke="#3a3a2a" stroke-width="0.8"/>
<line x1="182.2" y1="456.2" x2="205.4" y2="456.2" stroke="#3a3a2a" stroke-width="0.8"/>
<line x1="227.1" y1="450.8" x2="227.1" y2="458" stroke="#444" stroke-width="0.8"/>
<line x1="224.1" y1="450.8" x2="230.1" y2="450.8" stroke="#444" stroke-width="0.8"/>
<line x1="224.1" y1="458" x2="230.1" y2="458" stroke="#444" stroke-width="0.8"/>
<rect x="215.9" y="455.8" width="22.4" height="1.4" fill="#3c2a10" stroke="#3a3a2a" stroke-width="0.8"/>
<line x1="215.5" y1="456.6" x2="238.7" y2="456.6" stroke="#3a3a2a" stroke-width="0.8"/>
<text x="161.6" y="509.9" font-size="9.1" text-anchor="middle" fill="#1a1a1a">IL-7</text>
<text x="193.3" y="509.9" font-size="9.1" text-anchor="middle" fill="#1a1a1a">TSLP</text>
<text x="227.6" y="509.9" font-size="9.1" text-anchor="middle" fill="#1a1a1a">XL019</text>
<line x1="279.5" y1="456" x2="379.8" y2="456" stroke="#c4bec4" stroke-width="0.8"/>
<line x1="279.5" y1="416.61" x2="279.5" y2="495.39" stroke="#333" stroke-width="1"/>
<line x1="279.5" y1="495.39" x2="379.5" y2="495.39" stroke="#333" stroke-width="1"/>
<line x1="296" y1="495.39" x2="296" y2="496.99" stroke="#333" stroke-width="0.7"/>
<line x1="329.5" y1="495.39" x2="329.5" y2="496.99" stroke="#333" stroke-width="0.7"/>
<line x1="362.8" y1="495.39" x2="362.8" y2="496.99" stroke="#333" stroke-width="0.7"/>
<line x1="277.7" y1="495.39" x2="279.5" y2="495.39" stroke="#333" stroke-width="0.8"/>
<text x="277.9" y="498.09" font-size="7.6" text-anchor="end" fill="#222" stroke="#222" stroke-width="0.15">-3</text>
<line x1="277.7" y1="482.26" x2="279.5" y2="482.26" stroke="#333" stroke-width="0.8"/>
<text x="277.9" y="484.96" font-size="7.6" text-anchor="end" fill="#222" stroke="#222" stroke-width="0.15">-2</text>
<line x1="277.7" y1="469.13" x2="279.5" y2="469.13" stroke="#333" stroke-width="0.8"/>
<text x="277.9" y="471.83" font-size="7.6" text-anchor="end" fill="#222" stroke="#222" stroke-width="0.15">-1</text>
<line x1="277.7" y1="456" x2="279.5" y2="456" stroke="#333" stroke-width="0.8"/>
<text x="277.9" y="458.7" font-size="7.6" text-anchor="end" fill="#222" stroke="#222" stroke-width="0.15">0</text>
<line x1="277.7" y1="442.87" x2="279.5" y2="442.87" stroke="#333" stroke-width="0.8"/>
<text x="277.9" y="445.57" font-size="7.6" text-anchor="end" fill="#222" stroke="#222" stroke-width="0.15">1</text>
<line x1="277.7" y1="429.74" x2="279.5" y2="429.74" stroke="#333" stroke-width="0.8"/>
<text x="277.9" y="432.44" font-size="7.6" text-anchor="end" fill="#222" stroke="#222" stroke-width="0.15">2</text>
<line x1="277.7" y1="416.61" x2="279.5" y2="416.61" stroke="#333" stroke-width="0.8"/>
<text x="277.9" y="419.31" font-size="7.6" text-anchor="end" fill="#222" stroke="#222" stroke-width="0.15">3</text>
<line x1="296" y1="449.5" x2="296" y2="469.5" stroke="#444" stroke-width="0.8"/>
<line x1="293" y1="449.5" x2="299" y2="449.5" stroke="#444" stroke-width="0.8"/>
<line x1="293" y1="469.5" x2="299" y2="469.5" stroke="#444" stroke-width="0.8"/>
<rect x="284.8" y="454.7" width="22.4" height="3.6" fill="#f2ee1a" stroke="#3a3a2a" stroke-width="0.8"/>
<line x1="284.4" y1="456.5" x2="307.6" y2="456.5" stroke="#3a3a2a" stroke-width="0.8"/>
<line x1="329.5" y1="451.3" x2="329.5" y2="465.8" stroke="#444" stroke-width="0.8"/>
<line x1="326.5" y1="451.3" x2="332.5" y2="451.3" stroke="#444" stroke-width="0.8"/>
<line x1="326.5" y1="465.8" x2="332.5" y2="465.8" stroke="#444" stroke-width="0.8"/>
<rect x="318.3" y="455.7" width="22.4" height="2.2" fill="#ee1aee" stroke="#3a3a2a" stroke-width="0.8"/>
<line x1="317.9" y1="456.8" x2="341.1" y2="456.8" stroke="#3a3a2a" stroke-width="0.8"/>
<line x1="362.8" y1="443.3" x2="362.8" y2="470.5" stroke="#444" stroke-width="0.8"/>
<line x1="359.8" y1="443.3" x2="365.8" y2="443.3" stroke="#444" stroke-width="0.8"/>
<line x1="359.8" y1="470.5" x2="365.8" y2="470.5" stroke="#444" stroke-width="0.8"/>
<rect x="351.6" y="454.2" width="22.4" height="7.2" fill="#f58a1a" stroke="#3a3a2a" stroke-width="0.8"/>
<line x1="351.2" y1="456.5" x2="374.4" y2="456.5" stroke="#3a3a2a" stroke-width="0.8"/>
<text x="294" y="509.9" font-size="9.1" text-anchor="middle" fill="#1a1a1a">IL-7</text>
<text x="326.4" y="509.9" font-size="9.1" text-anchor="middle" fill="#1a1a1a">TSLP</text>
<text x="360.3" y="509.9" font-size="9.1" text-anchor="middle" fill="#1a1a1a">XL019</text>
<line x1="414.2" y1="456" x2="514.5" y2="456" stroke="#c4bec4" stroke-width="0.8"/>
<line x1="414.2" y1="416.61" x2="414.2" y2="495.39" stroke="#333" stroke-width="1"/>
<line x1="414.2" y1="495.39" x2="514.2" y2="495.39" stroke="#333" stroke-width="1"/>
<line x1="430.7" y1="495.39" x2="430.7" y2="496.99" stroke="#333" stroke-width="0.7"/>
<line x1="464.2" y1="495.39" x2="464.2" y2="496.99" stroke="#333" stroke-width="0.7"/>
<line x1="497.5" y1="495.39" x2="497.5" y2="496.99" stroke="#333" stroke-width="0.7"/>
<line x1="412.4" y1="495.39" x2="414.2" y2="495.39" stroke="#333" stroke-width="0.8"/>
<text x="412.6" y="498.09" font-size="7.6" text-anchor="end" fill="#222" stroke="#222" stroke-width="0.15">-3</text>
<line x1="412.4" y1="482.26" x2="414.2" y2="482.26" stroke="#333" stroke-width="0.8"/>
<text x="412.6" y="484.96" font-size="7.6" text-anchor="end" fill="#222" stroke="#222" stroke-width="0.15">-2</text>
<line x1="412.4" y1="469.13" x2="414.2" y2="469.13" stroke="#333" stroke-width="0.8"/>
<text x="412.6" y="471.83" font-size="7.6" text-anchor="end" fill="#222" stroke="#222" stroke-width="0.15">-1</text>
<line x1="412.4" y1="456" x2="414.2" y2="456" stroke="#333" stroke-width="0.8"/>
<text x="412.6" y="458.7" font-size="7.6" text-anchor="end" fill="#222" stroke="#222" stroke-width="0.15">0</text>
<line x1="412.4" y1="442.87" x2="414.2" y2="442.87" stroke="#333" stroke-width="0.8"/>
<text x="412.6" y="445.57" font-size="7.6" text-anchor="end" fill="#222" stroke="#222" stroke-width="0.15">1</text>
<line x1="412.4" y1="429.74" x2="414.2" y2="429.74" stroke="#333" stroke-width="0.8"/>
<text x="412.6" y="432.44" font-size="7.6" text-anchor="end" fill="#222" stroke="#222" stroke-width="0.15">2</text>
<line x1="412.4" y1="416.61" x2="414.2" y2="416.61" stroke="#333" stroke-width="0.8"/>
<text x="412.6" y="419.31" font-size="7.6" text-anchor="end" fill="#222" stroke="#222" stroke-width="0.15">3</text>
<line x1="430.7" y1="454.4" x2="430.7" y2="460.5" stroke="#444" stroke-width="0.8"/>
<line x1="427.7" y1="454.4" x2="433.7" y2="454.4" stroke="#444" stroke-width="0.8"/>
<line x1="427.7" y1="460.5" x2="433.7" y2="460.5" stroke="#444" stroke-width="0.8"/>
<rect x="419.5" y="454.8" width="22.4" height="2.5" fill="#7a7a30" stroke="#3a3a2a" stroke-width="0.8"/>
<line x1="419.1" y1="456" x2="442.3" y2="456" stroke="#3a3a2a" stroke-width="0.8"/>
<line x1="464.2" y1="453.3" x2="464.2" y2="461" stroke="#444" stroke-width="0.8"/>
<line x1="461.2" y1="453.3" x2="467.2" y2="453.3" stroke="#444" stroke-width="0.8"/>
<line x1="461.2" y1="461" x2="467.2" y2="461" stroke="#444" stroke-width="0.8"/>
<rect x="453" y="455.8" width="22.4" height="1.5" fill="#111111" stroke="#3a3a2a" stroke-width="0.8"/>
<line x1="452.6" y1="456.4" x2="475.8" y2="456.4" stroke="#3a3a2a" stroke-width="0.8"/>
<line x1="497.5" y1="451.3" x2="497.5" y2="458.8" stroke="#444" stroke-width="0.8"/>
<line x1="494.5" y1="451.3" x2="500.5" y2="451.3" stroke="#444" stroke-width="0.8"/>
<line x1="494.5" y1="458.8" x2="500.5" y2="458.8" stroke="#444" stroke-width="0.8"/>
<rect x="486.3" y="454.2" width="22.4" height="2.3" fill="#8a5a2a" stroke="#3a3a2a" stroke-width="0.8"/>
<line x1="485.9" y1="455.5" x2="509.1" y2="455.5" stroke="#3a3a2a" stroke-width="0.8"/>
<text x="428.3" y="509.9" font-size="9.1" text-anchor="middle" fill="#1a1a1a">IL-7</text>
<text x="460.5" y="509.9" font-size="9.1" text-anchor="middle" fill="#1a1a1a">TSLP</text>
<text x="494.3" y="509.9" font-size="9.1" text-anchor="middle" fill="#1a1a1a">XL019</text>
<line x1="143.8" y1="561.4" x2="244.1" y2="561.4" stroke="#c4bec4" stroke-width="0.8"/>
<line x1="143.8" y1="522.01" x2="143.8" y2="600.79" stroke="#333" stroke-width="1"/>
<line x1="143.8" y1="600.79" x2="243.8" y2="600.79" stroke="#333" stroke-width="1"/>
<line x1="160.3" y1="600.79" x2="160.3" y2="602.39" stroke="#333" stroke-width="0.7"/>
<line x1="193.8" y1="600.79" x2="193.8" y2="602.39" stroke="#333" stroke-width="0.7"/>
<line x1="227.1" y1="600.79" x2="227.1" y2="602.39" stroke="#333" stroke-width="0.7"/>
<line x1="142" y1="600.79" x2="143.8" y2="600.79" stroke="#333" stroke-width="0.8"/>
<text x="142.2" y="603.49" font-size="7.6" text-anchor="end" fill="#222" stroke="#222" stroke-width="0.15">-3</text>
<line x1="142" y1="587.66" x2="143.8" y2="587.66" stroke="#333" stroke-width="0.8"/>
<text x="142.2" y="590.36" font-size="7.6" text-anchor="end" fill="#222" stroke="#222" stroke-width="0.15">-2</text>
<line x1="142" y1="574.53" x2="143.8" y2="574.53" stroke="#333" stroke-width="0.8"/>
<text x="142.2" y="577.23" font-size="7.6" text-anchor="end" fill="#222" stroke="#222" stroke-width="0.15">-1</text>
<line x1="142" y1="561.4" x2="143.8" y2="561.4" stroke="#333" stroke-width="0.8"/>
<text x="142.2" y="564.1" font-size="7.6" text-anchor="end" fill="#222" stroke="#222" stroke-width="0.15">0</text>
<line x1="142" y1="548.27" x2="143.8" y2="548.27" stroke="#333" stroke-width="0.8"/>
<text x="142.2" y="550.97" font-size="7.6" text-anchor="end" fill="#222" stroke="#222" stroke-width="0.15">1</text>
<line x1="142" y1="535.14" x2="143.8" y2="535.14" stroke="#333" stroke-width="0.8"/>
<text x="142.2" y="537.84" font-size="7.6" text-anchor="end" fill="#222" stroke="#222" stroke-width="0.15">2</text>
<line x1="142" y1="522.01" x2="143.8" y2="522.01" stroke="#333" stroke-width="0.8"/>
<text x="142.2" y="524.71" font-size="7.6" text-anchor="end" fill="#222" stroke="#222" stroke-width="0.15">3</text>
<line x1="160.3" y1="554.5" x2="160.3" y2="562" stroke="#444" stroke-width="0.8"/>
<line x1="157.3" y1="554.5" x2="163.3" y2="554.5" stroke="#444" stroke-width="0.8"/>
<line x1="157.3" y1="562" x2="163.3" y2="562" stroke="#444" stroke-width="0.8"/>
<rect x="149.1" y="555.4" width="22.4" height="6" fill="#f2ee1a" stroke="#3a3a2a" stroke-width="0.8"/>
<line x1="148.7" y1="558.8" x2="171.9" y2="558.8" stroke="#3a3a2a" stroke-width="0.8"/>
<line x1="193.8" y1="533.8" x2="193.8" y2="559.3" stroke="#444" stroke-width="0.8"/>
<line x1="190.8" y1="533.8" x2="196.8" y2="533.8" stroke="#444" stroke-width="0.8"/>
<line x1="190.8" y1="559.3" x2="196.8" y2="559.3" stroke="#444" stroke-width="0.8"/>
<rect x="182.6" y="540.4" width="22.4" height="14.7" fill="#ee1aee" stroke="#3a3a2a" stroke-width="0.8"/>
<line x1="182.2" y1="547" x2="205.4" y2="547" stroke="#3a3a2a" stroke-width="0.8"/>
<circle cx="193.8" cy="529.6" r="1.25" fill="#111"/>
<line x1="227.1" y1="558" x2="227.1" y2="576.3" stroke="#444" stroke-width="0.8"/>
<line x1="224.1" y1="558" x2="230.1" y2="558" stroke="#444" stroke-width="0.8"/>
<line x1="224.1" y1="576.3" x2="230.1" y2="576.3" stroke="#444" stroke-width="0.8"/>
<rect x="215.9" y="560.9" width="22.4" height="7.5" fill="#f58a1a" stroke="#3a3a2a" stroke-width="0.8"/>
<line x1="215.5" y1="565" x2="238.7" y2="565" stroke="#3a3a2a" stroke-width="0.8"/>
<text x="158.5" y="614.7" font-size="9.1" text-anchor="middle" fill="#1a1a1a">IL-7</text>
<text x="190.7" y="614.7" font-size="9.1" text-anchor="middle" fill="#1a1a1a">TSLP</text>
<text x="224.8" y="614.7" font-size="9.1" text-anchor="middle" fill="#1a1a1a">XL019</text>
<line x1="279.5" y1="561.4" x2="379.8" y2="561.4" stroke="#c4bec4" stroke-width="0.8"/>
<line x1="279.5" y1="522.01" x2="279.5" y2="600.79" stroke="#333" stroke-width="1"/>
<line x1="279.5" y1="600.79" x2="379.5" y2="600.79" stroke="#333" stroke-width="1"/>
<line x1="296" y1="600.79" x2="296" y2="602.39" stroke="#333" stroke-width="0.7"/>
<line x1="329.5" y1="600.79" x2="329.5" y2="602.39" stroke="#333" stroke-width="0.7"/>
<line x1="362.8" y1="600.79" x2="362.8" y2="602.39" stroke="#333" stroke-width="0.7"/>
<line x1="277.7" y1="600.79" x2="279.5" y2="600.79" stroke="#333" stroke-width="0.8"/>
<text x="277.9" y="603.49" font-size="7.6" text-anchor="end" fill="#222" stroke="#222" stroke-width="0.15">-3</text>
<line x1="277.7" y1="587.66" x2="279.5" y2="587.66" stroke="#333" stroke-width="0.8"/>
<text x="277.9" y="590.36" font-size="7.6" text-anchor="end" fill="#222" stroke="#222" stroke-width="0.15">-2</text>
<line x1="277.7" y1="574.53" x2="279.5" y2="574.53" stroke="#333" stroke-width="0.8"/>
<text x="277.9" y="577.23" font-size="7.6" text-anchor="end" fill="#222" stroke="#222" stroke-width="0.15">-1</text>
<line x1="277.7" y1="561.4" x2="279.5" y2="561.4" stroke="#333" stroke-width="0.8"/>
<text x="277.9" y="564.1" font-size="7.6" text-anchor="end" fill="#222" stroke="#222" stroke-width="0.15">0</text>
<line x1="277.7" y1="548.27" x2="279.5" y2="548.27" stroke="#333" stroke-width="0.8"/>
<text x="277.9" y="550.97" font-size="7.6" text-anchor="end" fill="#222" stroke="#222" stroke-width="0.15">1</text>
<line x1="277.7" y1="535.14" x2="279.5" y2="535.14" stroke="#333" stroke-width="0.8"/>
<text x="277.9" y="537.84" font-size="7.6" text-anchor="end" fill="#222" stroke="#222" stroke-width="0.15">2</text>
<line x1="277.7" y1="522.01" x2="279.5" y2="522.01" stroke="#333" stroke-width="0.8"/>
<text x="277.9" y="524.71" font-size="7.6" text-anchor="end" fill="#222" stroke="#222" stroke-width="0.15">3</text>
<line x1="296" y1="556.3" x2="296" y2="566.3" stroke="#444" stroke-width="0.8"/>
<line x1="293" y1="556.3" x2="299" y2="556.3" stroke="#444" stroke-width="0.8"/>
<line x1="293" y1="566.3" x2="299" y2="566.3" stroke="#444" stroke-width="0.8"/>
<rect x="284.8" y="559.7" width="22.4" height="4.2" fill="#f2ee1a" stroke="#3a3a2a" stroke-width="0.8"/>
<line x1="284.4" y1="562" x2="307.6" y2="562" stroke="#3a3a2a" stroke-width="0.8"/>
<line x1="329.5" y1="533" x2="329.5" y2="562" stroke="#444" stroke-width="0.8"/>
<line x1="326.5" y1="533" x2="332.5" y2="533" stroke="#444" stroke-width="0.8"/>
<line x1="326.5" y1="562" x2="332.5" y2="562" stroke="#444" stroke-width="0.8"/>
<rect x="318.3" y="543.4" width="22.4" height="12.5" fill="#ee1aee" stroke="#3a3a2a" stroke-width="0.8"/>
<line x1="317.9" y1="553" x2="341.1" y2="553" stroke="#3a3a2a" stroke-width="0.8"/>
<circle cx="329.5" cy="528.3" r="1.25" fill="#111"/>
<line x1="362.8" y1="560.8" x2="362.8" y2="573.8" stroke="#444" stroke-width="0.8"/>
<line x1="359.8" y1="560.8" x2="365.8" y2="560.8" stroke="#444" stroke-width="0.8"/>
<line x1="359.8" y1="573.8" x2="365.8" y2="573.8" stroke="#444" stroke-width="0.8"/>
<rect x="351.6" y="563.7" width="22.4" height="6.4" fill="#f58a1a" stroke="#3a3a2a" stroke-width="0.8"/>
<line x1="351.2" y1="567" x2="374.4" y2="567" stroke="#3a3a2a" stroke-width="0.8"/>
<text x="292.5" y="614.7" font-size="9.1" text-anchor="middle" fill="#1a1a1a">IL-7</text>
<text x="325" y="614.7" font-size="9.1" text-anchor="middle" fill="#1a1a1a">TSLP</text>
<text x="358.7" y="614.7" font-size="9.1" text-anchor="middle" fill="#1a1a1a">XL019</text>
<line x1="414.2" y1="561.4" x2="514.5" y2="561.4" stroke="#c4bec4" stroke-width="0.8"/>
<line x1="414.2" y1="522.01" x2="414.2" y2="600.79" stroke="#333" stroke-width="1"/>
<line x1="414.2" y1="600.79" x2="514.2" y2="600.79" stroke="#333" stroke-width="1"/>
<line x1="430.7" y1="600.79" x2="430.7" y2="602.39" stroke="#333" stroke-width="0.7"/>
<line x1="464.2" y1="600.79" x2="464.2" y2="602.39" stroke="#333" stroke-width="0.7"/>
<line x1="497.5" y1="600.79" x2="497.5" y2="602.39" stroke="#333" stroke-width="0.7"/>
<line x1="412.4" y1="600.79" x2="414.2" y2="600.79" stroke="#333" stroke-width="0.8"/>
<text x="412.6" y="603.49" font-size="7.6" text-anchor="end" fill="#222" stroke="#222" stroke-width="0.15">-3</text>
<line x1="412.4" y1="587.66" x2="414.2" y2="587.66" stroke="#333" stroke-width="0.8"/>
<text x="412.6" y="590.36" font-size="7.6" text-anchor="end" fill="#222" stroke="#222" stroke-width="0.15">-2</text>
<line x1="412.4" y1="574.53" x2="414.2" y2="574.53" stroke="#333" stroke-width="0.8"/>
<text x="412.6" y="577.23" font-size="7.6" text-anchor="end" fill="#222" stroke="#222" stroke-width="0.15">-1</text>
<line x1="412.4" y1="561.4" x2="414.2" y2="561.4" stroke="#333" stroke-width="0.8"/>
<text x="412.6" y="564.1" font-size="7.6" text-anchor="end" fill="#222" stroke="#222" stroke-width="0.15">0</text>
<line x1="412.4" y1="548.27" x2="414.2" y2="548.27" stroke="#333" stroke-width="0.8"/>
<text x="412.6" y="550.97" font-size="7.6" text-anchor="end" fill="#222" stroke="#222" stroke-width="0.15">1</text>
<line x1="412.4" y1="535.14" x2="414.2" y2="535.14" stroke="#333" stroke-width="0.8"/>
<text x="412.6" y="537.84" font-size="7.6" text-anchor="end" fill="#222" stroke="#222" stroke-width="0.15">2</text>
<line x1="412.4" y1="522.01" x2="414.2" y2="522.01" stroke="#333" stroke-width="0.8"/>
<text x="412.6" y="524.71" font-size="7.6" text-anchor="end" fill="#222" stroke="#222" stroke-width="0.15">3</text>
<line x1="430.7" y1="557" x2="430.7" y2="563.8" stroke="#444" stroke-width="0.8"/>
<line x1="427.7" y1="557" x2="433.7" y2="557" stroke="#444" stroke-width="0.8"/>
<line x1="427.7" y1="563.8" x2="433.7" y2="563.8" stroke="#444" stroke-width="0.8"/>
<rect x="419.5" y="560.3" width="22.4" height="2.1" fill="#9a9a40" stroke="#3a3a2a" stroke-width="0.8"/>
<line x1="419.1" y1="561.4" x2="442.3" y2="561.4" stroke="#3a3a2a" stroke-width="0.8"/>
<line x1="464.2" y1="558.5" x2="464.2" y2="563" stroke="#444" stroke-width="0.8"/>
<line x1="461.2" y1="558.5" x2="467.2" y2="558.5" stroke="#444" stroke-width="0.8"/>
<line x1="461.2" y1="563" x2="467.2" y2="563" stroke="#444" stroke-width="0.8"/>
<rect x="453" y="559.9" width="22.4" height="2.3" fill="#8a108a" stroke="#3a3a2a" stroke-width="0.8"/>
<line x1="452.6" y1="561" x2="475.8" y2="561" stroke="#3a3a2a" stroke-width="0.8"/>
<line x1="497.5" y1="558.5" x2="497.5" y2="563.6" stroke="#444" stroke-width="0.8"/>
<line x1="494.5" y1="558.5" x2="500.5" y2="558.5" stroke="#444" stroke-width="0.8"/>
<line x1="494.5" y1="563.6" x2="500.5" y2="563.6" stroke="#444" stroke-width="0.8"/>
<rect x="486.3" y="559.9" width="22.4" height="2.1" fill="#c0601a" stroke="#3a3a2a" stroke-width="0.8"/>
<line x1="485.9" y1="561" x2="509.1" y2="561" stroke="#3a3a2a" stroke-width="0.8"/>
<text x="427.5" y="614.7" font-size="9.1" text-anchor="middle" fill="#1a1a1a">IL-7</text>
<text x="460" y="614.7" font-size="9.1" text-anchor="middle" fill="#1a1a1a">TSLP</text>
<text x="493.7" y="614.7" font-size="9.1" text-anchor="middle" fill="#1a1a1a">XL019</text>
<line x1="143.8" y1="667.2" x2="244.1" y2="667.2" stroke="#c4bec4" stroke-width="0.8"/>
<line x1="143.8" y1="627.81" x2="143.8" y2="706.59" stroke="#333" stroke-width="1"/>
<line x1="143.8" y1="706.59" x2="243.8" y2="706.59" stroke="#333" stroke-width="1"/>
<line x1="160.3" y1="706.59" x2="160.3" y2="708.19" stroke="#333" stroke-width="0.7"/>
<line x1="193.8" y1="706.59" x2="193.8" y2="708.19" stroke="#333" stroke-width="0.7"/>
<line x1="227.1" y1="706.59" x2="227.1" y2="708.19" stroke="#333" stroke-width="0.7"/>
<line x1="142" y1="706.59" x2="143.8" y2="706.59" stroke="#333" stroke-width="0.8"/>
<text x="142.2" y="709.29" font-size="7.6" text-anchor="end" fill="#222" stroke="#222" stroke-width="0.15">-3</text>
<line x1="142" y1="693.46" x2="143.8" y2="693.46" stroke="#333" stroke-width="0.8"/>
<text x="142.2" y="696.16" font-size="7.6" text-anchor="end" fill="#222" stroke="#222" stroke-width="0.15">-2</text>
<line x1="142" y1="680.33" x2="143.8" y2="680.33" stroke="#333" stroke-width="0.8"/>
<text x="142.2" y="683.03" font-size="7.6" text-anchor="end" fill="#222" stroke="#222" stroke-width="0.15">-1</text>
<line x1="142" y1="667.2" x2="143.8" y2="667.2" stroke="#333" stroke-width="0.8"/>
<text x="142.2" y="669.9" font-size="7.6" text-anchor="end" fill="#222" stroke="#222" stroke-width="0.15">0</text>
<line x1="142" y1="654.07" x2="143.8" y2="654.07" stroke="#333" stroke-width="0.8"/>
<text x="142.2" y="656.77" font-size="7.6" text-anchor="end" fill="#222" stroke="#222" stroke-width="0.15">1</text>
<line x1="142" y1="640.94" x2="143.8" y2="640.94" stroke="#333" stroke-width="0.8"/>
<text x="142.2" y="643.64" font-size="7.6" text-anchor="end" fill="#222" stroke="#222" stroke-width="0.15">2</text>
<line x1="142" y1="627.81" x2="143.8" y2="627.81" stroke="#333" stroke-width="0.8"/>
<text x="142.2" y="630.51" font-size="7.6" text-anchor="end" fill="#222" stroke="#222" stroke-width="0.15">3</text>
<line x1="160.3" y1="660.5" x2="160.3" y2="669.5" stroke="#444" stroke-width="0.8"/>
<line x1="157.3" y1="660.5" x2="163.3" y2="660.5" stroke="#444" stroke-width="0.8"/>
<line x1="157.3" y1="669.5" x2="163.3" y2="669.5" stroke="#444" stroke-width="0.8"/>
<rect x="149.1" y="661.7" width="22.4" height="5.4" fill="#f2ee1a" stroke="#3a3a2a" stroke-width="0.8"/>
<line x1="148.7" y1="664.5" x2="171.9" y2="664.5" stroke="#3a3a2a" stroke-width="0.8"/>
<line x1="193.8" y1="645.8" x2="193.8" y2="670" stroke="#444" stroke-width="0.8"/>
<line x1="190.8" y1="645.8" x2="196.8" y2="645.8" stroke="#444" stroke-width="0.8"/>
<line x1="190.8" y1="670" x2="196.8" y2="670" stroke="#444" stroke-width="0.8"/>
<rect x="182.6" y="649.7" width="22.4" height="10.7" fill="#ee1aee" stroke="#3a3a2a" stroke-width="0.8"/>
<line x1="182.2" y1="655" x2="205.4" y2="655" stroke="#3a3a2a" stroke-width="0.8"/>
<circle cx="193.8" cy="640.3" r="1.25" fill="#111"/>
<line x1="227.1" y1="662" x2="227.1" y2="677.5" stroke="#444" stroke-width="0.8"/>
<line x1="224.1" y1="662" x2="230.1" y2="662" stroke="#444" stroke-width="0.8"/>
<line x1="224.1" y1="677.5" x2="230.1" y2="677.5" stroke="#444" stroke-width="0.8"/>
<rect x="215.9" y="667.9" width="22.4" height="4.7" fill="#f58a1a" stroke="#3a3a2a" stroke-width="0.8"/>
<line x1="215.5" y1="670" x2="238.7" y2="670" stroke="#3a3a2a" stroke-width="0.8"/>
<text x="159.4" y="721.9" font-size="9.1" text-anchor="middle" fill="#1a1a1a">IL-7</text>
<text x="191.4" y="721.9" font-size="9.1" text-anchor="middle" fill="#1a1a1a">TSLP</text>
<text x="226" y="721.9" font-size="9.1" text-anchor="middle" fill="#1a1a1a">XL019</text>
<line x1="279.5" y1="667.2" x2="379.8" y2="667.2" stroke="#c4bec4" stroke-width="0.8"/>
<line x1="279.5" y1="627.81" x2="279.5" y2="706.59" stroke="#333" stroke-width="1"/>
<line x1="279.5" y1="706.59" x2="379.5" y2="706.59" stroke="#333" stroke-width="1"/>
<line x1="296" y1="706.59" x2="296" y2="708.19" stroke="#333" stroke-width="0.7"/>
<line x1="329.5" y1="706.59" x2="329.5" y2="708.19" stroke="#333" stroke-width="0.7"/>
<line x1="362.8" y1="706.59" x2="362.8" y2="708.19" stroke="#333" stroke-width="0.7"/>
<line x1="277.7" y1="706.59" x2="279.5" y2="706.59" stroke="#333" stroke-width="0.8"/>
<text x="277.9" y="709.29" font-size="7.6" text-anchor="end" fill="#222" stroke="#222" stroke-width="0.15">-3</text>
<line x1="277.7" y1="693.46" x2="279.5" y2="693.46" stroke="#333" stroke-width="0.8"/>
<text x="277.9" y="696.16" font-size="7.6" text-anchor="end" fill="#222" stroke="#222" stroke-width="0.15">-2</text>
<line x1="277.7" y1="680.33" x2="279.5" y2="680.33" stroke="#333" stroke-width="0.8"/>
<text x="277.9" y="683.03" font-size="7.6" text-anchor="end" fill="#222" stroke="#222" stroke-width="0.15">-1</text>
<line x1="277.7" y1="667.2" x2="279.5" y2="667.2" stroke="#333" stroke-width="0.8"/>
<text x="277.9" y="669.9" font-size="7.6" text-anchor="end" fill="#222" stroke="#222" stroke-width="0.15">0</text>
<line x1="277.7" y1="654.07" x2="279.5" y2="654.07" stroke="#333" stroke-width="0.8"/>
<text x="277.9" y="656.77" font-size="7.6" text-anchor="end" fill="#222" stroke="#222" stroke-width="0.15">1</text>
<line x1="277.7" y1="640.94" x2="279.5" y2="640.94" stroke="#333" stroke-width="0.8"/>
<text x="277.9" y="643.64" font-size="7.6" text-anchor="end" fill="#222" stroke="#222" stroke-width="0.15">2</text>
<line x1="277.7" y1="627.81" x2="279.5" y2="627.81" stroke="#333" stroke-width="0.8"/>
<text x="277.9" y="630.51" font-size="7.6" text-anchor="end" fill="#222" stroke="#222" stroke-width="0.15">3</text>
<line x1="296" y1="665" x2="296" y2="669.5" stroke="#444" stroke-width="0.8"/>
<line x1="293" y1="665" x2="299" y2="665" stroke="#444" stroke-width="0.8"/>
<line x1="293" y1="669.5" x2="299" y2="669.5" stroke="#444" stroke-width="0.8"/>
<rect x="284.8" y="665.4" width="22.4" height="3.5" fill="#f2ee1a" stroke="#3a3a2a" stroke-width="0.8"/>
<line x1="284.4" y1="667" x2="307.6" y2="667" stroke="#3a3a2a" stroke-width="0.8"/>
<line x1="329.5" y1="633.8" x2="329.5" y2="666.3" stroke="#444" stroke-width="0.8"/>
<line x1="326.5" y1="633.8" x2="332.5" y2="633.8" stroke="#444" stroke-width="0.8"/>
<line x1="326.5" y1="666.3" x2="332.5" y2="666.3" stroke="#444" stroke-width="0.8"/>
<rect x="318.3" y="640.9" width="22.4" height="22.5" fill="#ee1aee" stroke="#3a3a2a" stroke-width="0.8"/>
<line x1="317.9" y1="652.5" x2="341.1" y2="652.5" stroke="#3a3a2a" stroke-width="0.8"/>
<circle cx="329.5" cy="628.3" r="1.25" fill="#111"/>
<line x1="362.8" y1="667.5" x2="362.8" y2="687.5" stroke="#444" stroke-width="0.8"/>
<line x1="359.8" y1="667.5" x2="365.8" y2="667.5" stroke="#444" stroke-width="0.8"/>
<line x1="359.8" y1="687.5" x2="365.8" y2="687.5" stroke="#444" stroke-width="0.8"/>
<rect x="351.6" y="671.7" width="22.4" height="11.2" fill="#f58a1a" stroke="#3a3a2a" stroke-width="0.8"/>
<line x1="351.2" y1="676.3" x2="374.4" y2="676.3" stroke="#3a3a2a" stroke-width="0.8"/>
<circle cx="362.8" cy="661.6" r="1.25" fill="#111"/>
<text x="293.5" y="721.9" font-size="9.1" text-anchor="middle" fill="#1a1a1a">IL-7</text>
<text x="325.4" y="721.9" font-size="9.1" text-anchor="middle" fill="#1a1a1a">TSLP</text>
<text x="359.5" y="721.9" font-size="9.1" text-anchor="middle" fill="#1a1a1a">XL019</text>
<line x1="414.2" y1="667.2" x2="514.5" y2="667.2" stroke="#c4bec4" stroke-width="0.8"/>
<line x1="414.2" y1="627.81" x2="414.2" y2="706.59" stroke="#333" stroke-width="1"/>
<line x1="414.2" y1="706.59" x2="514.2" y2="706.59" stroke="#333" stroke-width="1"/>
<line x1="430.7" y1="706.59" x2="430.7" y2="708.19" stroke="#333" stroke-width="0.7"/>
<line x1="464.2" y1="706.59" x2="464.2" y2="708.19" stroke="#333" stroke-width="0.7"/>
<line x1="497.5" y1="706.59" x2="497.5" y2="708.19" stroke="#333" stroke-width="0.7"/>
<line x1="412.4" y1="706.59" x2="414.2" y2="706.59" stroke="#333" stroke-width="0.8"/>
<text x="412.6" y="709.29" font-size="7.6" text-anchor="end" fill="#222" stroke="#222" stroke-width="0.15">-3</text>
<line x1="412.4" y1="693.46" x2="414.2" y2="693.46" stroke="#333" stroke-width="0.8"/>
<text x="412.6" y="696.16" font-size="7.6" text-anchor="end" fill="#222" stroke="#222" stroke-width="0.15">-2</text>
<line x1="412.4" y1="680.33" x2="414.2" y2="680.33" stroke="#333" stroke-width="0.8"/>
<text x="412.6" y="683.03" font-size="7.6" text-anchor="end" fill="#222" stroke="#222" stroke-width="0.15">-1</text>
<line x1="412.4" y1="667.2" x2="414.2" y2="667.2" stroke="#333" stroke-width="0.8"/>
<text x="412.6" y="669.9" font-size="7.6" text-anchor="end" fill="#222" stroke="#222" stroke-width="0.15">0</text>
<line x1="412.4" y1="654.07" x2="414.2" y2="654.07" stroke="#333" stroke-width="0.8"/>
<text x="412.6" y="656.77" font-size="7.6" text-anchor="end" fill="#222" stroke="#222" stroke-width="0.15">1</text>
<line x1="412.4" y1="640.94" x2="414.2" y2="640.94" stroke="#333" stroke-width="0.8"/>
<text x="412.6" y="643.64" font-size="7.6" text-anchor="end" fill="#222" stroke="#222" stroke-width="0.15">2</text>
<line x1="412.4" y1="627.81" x2="414.2" y2="627.81" stroke="#333" stroke-width="0.8"/>
<text x="412.6" y="630.51" font-size="7.6" text-anchor="end" fill="#222" stroke="#222" stroke-width="0.15">3</text>
<line x1="430.7" y1="662.5" x2="430.7" y2="671.7" stroke="#444" stroke-width="0.8"/>
<line x1="427.7" y1="662.5" x2="433.7" y2="662.5" stroke="#444" stroke-width="0.8"/>
<line x1="427.7" y1="671.7" x2="433.7" y2="671.7" stroke="#444" stroke-width="0.8"/>
<rect x="419.5" y="666" width="22.4" height="2.1" fill="#6a7a20" stroke="#3a3a2a" stroke-width="0.8"/>
<line x1="419.1" y1="667.2" x2="442.3" y2="667.2" stroke="#3a3a2a" stroke-width="0.8"/>
<line x1="464.2" y1="664.5" x2="464.2" y2="671.7" stroke="#444" stroke-width="0.8"/>
<line x1="461.2" y1="664.5" x2="467.2" y2="664.5" stroke="#444" stroke-width="0.8"/>
<line x1="461.2" y1="671.7" x2="467.2" y2="671.7" stroke="#444" stroke-width="0.8"/>
<rect x="453" y="665.4" width="22.4" height="2.7" fill="#b020c0" stroke="#3a3a2a" stroke-width="0.8"/>
<line x1="452.6" y1="666.7" x2="475.8" y2="666.7" stroke="#3a3a2a" stroke-width="0.8"/>
<line x1="497.5" y1="659.7" x2="497.5" y2="671.7" stroke="#444" stroke-width="0.8"/>
<line x1="494.5" y1="659.7" x2="500.5" y2="659.7" stroke="#444" stroke-width="0.8"/>
<line x1="494.5" y1="671.7" x2="500.5" y2="671.7" stroke="#444" stroke-width="0.8"/>
<rect x="486.3" y="663.5" width="22.4" height="4.6" fill="#f58a1a" stroke="#3a3a2a" stroke-width="0.8"/>
<line x1="485.9" y1="666" x2="509.1" y2="666" stroke="#3a3a2a" stroke-width="0.8"/>
<text x="427.2" y="721.9" font-size="9.1" text-anchor="middle" fill="#1a1a1a">IL-7</text>
<text x="459.7" y="721.9" font-size="9.1" text-anchor="middle" fill="#1a1a1a">TSLP</text>
<text x="493.7" y="721.9" font-size="9.1" text-anchor="middle" fill="#1a1a1a">XL019</text>
<text x="195.9" y="745" font-size="15.3" text-anchor="middle" fill="#111" style="font-kerning:none">pSTAT5</text>
<text x="328.5" y="745" font-size="15.3" text-anchor="middle" fill="#111" style="font-kerning:none">pS6</text>
<text x="460" y="745" font-size="15.3" text-anchor="middle" fill="#111" style="font-kerning:none">pERK</text>
</svg></body></html>
